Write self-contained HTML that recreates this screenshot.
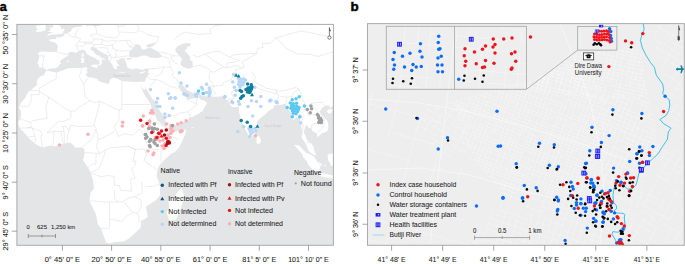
<!DOCTYPE html><html><head><meta charset="utf-8"><style>html,body{margin:0;padding:0;background:#fff}svg{display:block}</style></head><body><svg width="685" height="264" viewBox="0 0 685 264" font-family='"Liberation Sans", sans-serif'>
<defs>
<clipPath id="ca"><rect x="16.75" y="24" width="316.75" height="221"/></clipPath>
<clipPath id="cb"><rect x="367.75" y="23.5" width="316.75" height="221.5"/></clipPath>
</defs>
<rect width="685" height="264" fill="#fff"/>
<rect x="16.75" y="24" width="316.75" height="221" fill="#e4e5e7"/>
<g clip-path="url(#ca)">
<path fill="#ffffff" d="M366.9,-13.1 L81.6,-13.1 L81.6,23.7 L82.1,24.9 L81.6,26.4 L77.7,27.1 L74.0,27.6 L72.1,28.8 L70.9,31.0 L69.1,32.3 L66.7,33.2 L64.5,33.7 L64.2,35.4 L60.8,37.2 L57.6,37.5 L55.9,36.7 L56.6,39.2 L53.2,38.9 L48.8,39.8 L49.8,41.1 L55.2,42.8 L57.6,45.2 L57.6,46.9 L56.9,51.8 L56.2,52.1 L48.3,51.8 L41.0,51.4 L37.8,53.1 L39.0,55.5 L39.2,58.0 L37.3,63.4 L39.0,65.3 L38.7,67.8 L42.4,67.3 L45.1,69.0 L46.8,70.2 L49.8,68.5 L55.7,68.3 L58.8,66.3 L59.3,64.6 L61.1,63.4 L59.8,61.6 L62.8,58.7 L66.0,57.0 L68.4,55.5 L68.2,53.3 L70.4,51.8 L73.8,52.3 L76.5,52.8 L78.9,51.1 L82.4,49.6 L85.6,50.9 L86.3,53.1 L87.8,54.5 L90.7,56.3 L94.1,57.5 L95.6,58.5 L97.3,59.9 L99.0,60.4 L99.8,63.1 L98.8,65.3 L100.0,65.6 L102.5,63.1 L101.2,61.4 L102.7,59.2 L105.9,60.2 L104.7,58.9 L102.0,57.7 L99.5,56.7 L100.0,55.8 L96.3,55.0 L93.9,51.8 L90.7,49.4 L90.7,47.2 L94.4,46.7 L93.9,47.9 L95.9,47.4 L97.8,50.1 L100.8,51.8 L104.9,54.1 L107.1,55.3 L108.4,56.0 L108.1,59.4 L109.6,61.2 L111.3,63.4 L112.3,64.6 L113.5,67.8 L115.7,69.2 L117.4,69.2 L116.2,66.5 L119.4,66.1 L118.2,64.1 L116.7,61.9 L115.9,59.7 L118.6,60.7 L119.4,58.7 L123.1,58.2 L125.0,58.7 L124.8,60.4 L126.0,62.1 L126.5,64.3 L127.5,67.8 L129.7,68.5 L132.9,69.7 L135.6,68.3 L139.0,69.0 L142.7,70.0 L145.4,68.3 L149.3,68.7 L148.5,70.5 L148.3,72.4 L147.6,75.4 L146.3,78.1 L145.1,81.0 L144.4,81.7 L146.1,86.1 L145.6,89.6 L146.8,89.8 L150.3,95.2 L152.2,98.9 L153.7,99.4 L156.4,105.7 L159.8,110.6 L162.3,114.3 L165.0,118.0 L165.5,120.9 L165.7,122.1 L166.7,126.1 L167.2,127.5 L170.8,127.0 L174.5,125.6 L179.9,124.1 L183.3,121.9 L188.5,120.2 L188.5,118.0 L192.9,116.7 L196.3,114.8 L198.8,114.1 L200.3,112.1 L202.2,111.8 L203.9,108.2 L207.1,103.3 L204.2,100.6 L200.7,99.8 L198.8,97.4 L198.5,94.0 L197.8,94.7 L196.1,96.4 L193.9,98.6 L188.0,99.6 L187.0,98.4 L187.0,96.4 L186.8,94.5 L185.6,94.7 L185.1,97.6 L183.8,95.4 L183.3,93.7 L182.1,92.3 L179.9,89.8 L178.2,86.4 L178.9,84.9 L180.2,83.9 L181.9,84.9 L183.6,86.1 L185.1,87.6 L186.8,90.1 L189.7,91.5 L192.9,93.0 L198.5,91.8 L201.0,95.2 L205.2,96.2 L211.5,96.7 L216.2,96.7 L223.5,96.2 L224.8,97.6 L226.0,99.8 L228.2,100.6 L229.2,102.5 L232.1,102.3 L230.2,103.8 L229.4,103.8 L232.1,106.9 L234.6,107.4 L238.5,106.5 L238.5,104.0 L239.0,108.2 L239.0,111.8 L240.2,116.7 L241.4,120.4 L243.9,126.8 L246.3,130.9 L247.6,134.1 L250.5,138.5 L252.2,136.6 L254.9,133.2 L256.4,131.4 L257.4,126.3 L256.9,121.6 L259.1,119.2 L262.3,116.7 L264.7,115.0 L269.1,110.6 L273.5,108.2 L273.8,105.7 L276.7,105.2 L278.7,105.0 L282.4,104.5 L285.5,103.8 L286.8,106.9 L288.2,109.4 L290.2,111.8 L291.9,116.7 L291.4,119.2 L294.4,119.7 L296.3,117.2 L299.8,118.0 L301.2,125.3 L302.2,133.9 L301.5,137.6 L304.9,142.5 L306.4,145.2 L308.8,151.3 L311.8,153.5 L314.2,155.2 L316.2,154.9 L314.2,151.0 L314.0,147.4 L311.3,143.2 L308.1,141.5 L306.4,138.8 L305.4,135.6 L303.7,132.7 L304.7,129.0 L305.6,125.6 L306.9,125.3 L308.1,127.3 L311.3,128.5 L313.0,131.4 L316.7,132.9 L317.4,137.3 L322.3,132.9 L324.0,132.7 L327.5,130.7 L328.4,127.8 L328.2,124.6 L327.2,120.4 L325.7,118.9 L322.8,116.7 L320.3,113.1 L319.6,111.8 L322.1,107.9 L325.0,105.7 L327.7,105.5 L329.4,105.7 L330.1,108.7 L331.4,106.5 L334.6,105.5 L338.7,103.8 L347.3,100.8 L354.7,94.7 L366.9,84.9ZM46.1,70.7 L56.9,72.4 L67.9,68.3 L81.6,68.0 L85.6,67.3 L87.8,68.0 L86.3,70.2 L87.8,72.2 L85.3,74.4 L88.0,77.1 L92.9,77.8 L97.8,79.3 L99.0,81.2 L104.7,82.9 L108.6,83.9 L109.8,81.2 L109.6,79.8 L113.3,77.8 L116.9,78.5 L122.1,81.0 L127.2,81.5 L133.8,82.0 L139.7,81.7 L144.4,81.7 L146.1,86.1 L144.6,89.8 L142.9,89.1 L140.5,85.2 L140.7,86.1 L142.7,91.0 L143.9,93.5 L147.6,99.6 L151.0,104.5 L151.7,110.4 L154.9,114.3 L156.9,119.4 L157.4,120.2 L161.5,124.1 L164.7,127.0 L166.7,127.8 L166.2,130.0 L169.6,132.9 L170.8,132.9 L177.0,130.9 L181.9,130.5 L186.0,129.5 L185.8,132.9 L183.8,137.6 L181.9,141.7 L178.9,147.4 L174.8,152.3 L171.6,153.5 L167.2,157.2 L163.5,160.8 L161.0,163.5 L159.1,165.7 L157.9,168.2 L156.6,175.0 L157.4,178.0 L159.6,184.1 L160.1,193.9 L160.3,195.1 L156.1,200.0 L148.8,204.7 L145.8,206.9 L147.1,212.3 L147.6,217.2 L141.4,220.8 L140.5,221.8 L141.2,224.5 L140.0,228.4 L136.5,231.6 L129.2,238.5 L123.3,241.6 L114.5,242.1 L109.6,243.6 L105.7,242.4 L105.7,241.4 L104.4,238.0 L101.0,228.4 L97.8,224.5 L96.1,214.5 L89.5,200.7 L90.5,192.7 L93.9,188.5 L92.9,179.9 L90.7,173.1 L89.5,170.1 L83.4,160.8 L82.6,160.1 L83.8,157.4 L84.6,152.3 L84.3,148.6 L81.4,147.4 L77.7,147.6 L75.3,147.8 L72.8,144.7 L70.4,142.7 L68.9,142.7 L63.5,143.4 L60.1,144.7 L55.7,146.6 L50.8,145.6 L42.2,147.6 L37.3,145.2 L34.1,142.9 L28.2,137.6 L23.8,131.9 L19.6,128.0 L17.7,122.4 L20.1,119.2 L21.3,114.3 L20.6,110.6 L18.7,107.2 L20.6,103.3 L24.8,98.4 L28.7,91.0 L31.2,89.8 L36.5,85.4 L37.0,83.9 L36.5,81.2 L39.7,76.8 L41.9,76.1 L43.9,75.1 L45.4,71.7ZM181.4,187.8 L184.3,196.3 L183.6,200.0 L181.9,204.9 L179.4,212.3 L176.0,219.4 L171.3,220.8 L168.4,219.1 L166.7,212.3 L169.4,207.4 L168.4,200.0 L174.0,197.1 L178.2,191.4ZM46.6,35.9 L50.3,34.9 L52.2,34.5 L55.7,34.5 L57.9,34.0 L61.3,34.0 L64.0,33.0 L62.8,32.5 L63.7,31.3 L64.7,29.6 L63.7,28.8 L61.3,28.8 L61.1,27.4 L60.3,25.9 L59.3,24.9 L57.6,24.7 L56.9,22.5 L53.2,22.5 L51.7,23.9 L53.2,26.1 L53.2,27.6 L49.3,27.8 L50.5,28.8 L50.5,30.3 L47.6,31.5 L50.8,32.0 L52.7,32.5 L53.9,32.3 L52.0,33.0 L49.3,33.5 L47.8,34.7ZM45.9,30.5 L45.6,27.8 L45.4,26.1 L46.6,24.7 L46.3,23.2 L43.4,22.9 L40.2,23.2 L39.7,25.4 L36.1,25.6 L36.3,27.6 L37.5,29.6 L35.3,31.0 L37.0,32.0 L39.7,32.0 L43.4,31.0 L45.1,30.5ZM81.6,57.0 L83.1,57.0 L83.8,55.5 L83.6,53.1 L81.6,54.3 L81.6,55.8ZM81.1,62.9 L82.6,62.9 L84.1,62.4 L84.3,59.2 L83.8,57.5 L80.7,58.0 L81.1,60.4ZM91.0,65.3 L93.2,64.8 L98.8,64.6 L97.6,67.0 L97.6,68.5 L95.6,67.8 L91.2,66.3ZM118.2,71.9 L120.6,71.7 L125.0,71.9 L124.3,72.7 L120.6,72.4 L118.2,72.2ZM139.7,73.4 L141.4,73.6 L143.9,72.7 L145.4,70.9 L142.7,71.7 L139.7,72.4ZM66.2,61.4 L67.9,62.1 L69.1,61.2 L68.2,60.5 L66.4,60.9ZM256.1,142.5 L256.6,140.0 L256.1,136.3 L257.1,134.4 L259.8,137.6 L261.3,140.5 L260.1,142.9 L258.1,143.9ZM294.1,144.7 L299.5,145.6 L302.5,149.3 L306.6,153.0 L309.1,153.5 L314.2,156.7 L316.7,160.8 L320.3,165.7 L319.9,172.6 L316.7,172.8 L311.3,168.2 L308.1,164.5 L306.4,160.8 L303.2,157.2 L302.2,154.0 L298.3,149.8ZM318.4,175.0 L320.3,172.8 L325.2,173.8 L331.1,175.3 L336.8,175.3 L340.9,177.2 L341.2,179.7 L336.3,179.0 L330.1,178.2 L325.2,177.5 L321.3,176.5ZM327.7,158.4 L328.4,160.8 L330.1,163.3 L330.6,165.7 L333.8,165.7 L336.3,166.7 L341.2,167.2 L344.9,168.2 L352.2,158.4 L352.2,146.1 L347.3,141.2 L342.4,146.1 L337.5,150.5 L333.8,152.5 L330.9,154.2 L329.2,153.5 L327.7,154.9ZM326.7,111.6 L328.9,113.8 L331.4,113.1 L332.6,110.1 L331.4,109.2 L328.2,109.6ZM318.1,162.3 L320.3,162.8 L322.3,165.7 L320.8,165.7 L319.4,164.0ZM324.3,164.7 L325.7,164.7 L326.0,166.2 L324.3,166.2ZM191.2,127.5 L194.1,127.3 L193.4,128.3 L191.7,128.3Z"/>
<path fill="#e4e5e7" d="M129.2,56.5 L129.2,52.6 L130.7,50.1 L133.1,47.7 L135.8,44.5 L138.0,44.3 L140.5,45.7 L141.4,46.7 L140.2,47.2 L142.7,49.4 L145.1,49.2 L147.6,48.2 L150.0,47.7 L153.2,48.9 L157.9,51.6 L162.5,56.5 L157.9,58.0 L151.2,57.7 L149.5,57.2 L146.3,55.5 L141.4,55.8 L137.8,57.2 L131.9,57.5ZM146.1,46.2 L147.6,47.4 L150.3,47.2 L153.2,46.0 L154.4,44.3 L156.9,42.8 L154.4,43.0 L152.0,43.5 L148.8,44.3 L146.8,45.0ZM175.3,49.4 L177.0,46.7 L181.1,44.5 L186.0,43.0 L190.5,43.5 L190.7,45.2 L186.3,47.4 L186.8,49.6 L184.3,50.1 L186.3,52.6 L189.7,56.0 L190.2,58.0 L190.5,60.4 L192.4,61.2 L192.7,64.6 L192.7,67.8 L188.0,68.7 L183.8,67.3 L180.2,64.6 L181.4,59.7 L182.9,59.4 L181.6,58.2 L179.7,56.0 L177.0,53.3 L175.7,51.6ZM126.0,59.4 L128.0,59.7 L131.6,58.9 L131.6,58.0 L129.2,58.0 L126.7,58.2ZM84.8,24.7 L87.3,25.9 L91.2,25.2 L94.9,26.4 L99.8,25.4 L105.9,24.2 L108.6,25.2 L112.5,23.2 L84.8,21.2Z"/>
<path fill="none" stroke="#d6d6d8" stroke-width="0.45" stroke-linejoin="round" d="M56.4,72.4 L56.2,78.8 L51.7,81.2 L39.2,88.1 L39.2,90.5 L28.2,90.5M39.2,90.5 L39.2,94.7 L31.2,94.7 L31.2,100.8 L28.7,106.2 L18.9,106.2M39.2,91.5 L48.8,97.2 L63.5,107.4 L70.9,111.4 L74.8,110.9 L78.9,107.4 L90.0,100.8M81.6,68.0 L80.7,73.4 L78.9,76.1 L83.8,84.4 L85.1,97.2 L90.0,100.8M88.7,77.1 L85.8,80.7 L83.8,84.4M121.8,81.0 L121.8,104.5 L151.0,104.5M121.8,104.5 L121.8,109.4 L119.4,109.4 L119.4,110.6 L99.5,101.1 L95.4,103.0 L90.0,100.8M119.4,110.6 L118.9,120.2 L115.5,124.1 L114.5,127.8 L116.7,131.4 L118.4,136.3 L124.3,133.9 L132.9,135.1 L140.2,129.0 L143.9,135.1M99.5,101.1 L98.5,107.7 L93.9,124.8M70.9,111.4 L70.9,118.2 L63.0,121.6 L61.1,121.9 L59.3,121.4 L55.7,123.6 L47.1,132.9M48.8,97.2 L45.9,106.9 L47.1,118.2 L32.4,120.7 L30.7,122.6 L20.1,118.7M30.7,122.6 L31.2,127.8 L19.6,128.0M27.0,127.3 L32.4,128.0 L34.8,136.3 L28.2,136.8M32.4,128.0 L39.7,130.7 L41.9,133.6 L41.0,137.8 L42.2,147.6M34.1,142.9 L36.1,140.7 L34.8,136.3M67.2,129.0 L69.4,129.7 L70.4,125.3 L80.2,126.5 L91.2,126.3 L93.9,124.8M93.9,124.8 L96.1,129.0 L93.2,136.3 L90.0,141.2 L87.5,142.5 L84.6,144.9 L81.4,147.1M67.2,142.7 L67.2,136.3 L69.4,129.7M52.7,145.9 L53.7,139.0 L53.7,131.4 L60.6,131.4 L63.5,143.4M60.6,131.4 L64.2,131.4 L64.5,143.2M47.1,132.9 L53.7,131.4M64.2,131.4 L62.8,126.5 L66.4,126.3 L67.2,129.0M96.1,129.0 L98.5,140.0 L96.1,146.1 L99.8,153.5 L105.9,149.8 L109.6,147.8 L116.9,147.4 L128.0,146.1 L136.0,149.8M98.5,140.0 L105.9,136.3 L114.5,131.4M143.9,135.1 L145.1,140.0 L148.5,147.1M143.9,135.1 L146.8,132.7 L150.0,123.4 L151.2,116.7 L155.2,114.3M150.0,123.4 L156.1,122.4 L162.5,125.6 L164.5,127.8M163.0,131.4 L165.7,131.4 L168.4,136.3 L178.2,138.8 L170.8,146.1 L165.7,148.6 L163.3,148.8M148.5,147.1 L153.7,149.6 L157.4,149.8 L161.0,148.6 L163.3,148.8M163.3,148.8 L161.0,151.5 L161.0,162.5M143.9,148.1 L146.3,154.7 L143.9,160.8 L152.5,166.2 L156.6,169.9M135.3,149.6 L133.1,161.8M133.1,161.8 L136.0,160.8 L135.3,164.5 L131.6,169.4 L135.3,178.0M90.5,173.1 L101.0,176.7 L108.4,175.5 L114.0,176.3 L114.5,185.3 L119.4,185.3 L120.6,190.2 L131.6,191.2 L130.4,179.2 L135.3,178.0M159.6,184.1 L152.5,186.5 L146.3,186.5M141.4,181.6 L142.4,192.7 L135.1,196.6M89.5,200.7 L109.6,202.2 L118.2,202.0 L122.6,202.0M109.6,202.2 L109.6,212.3 L109.6,219.1 L109.6,228.2 L101.0,228.4M109.6,219.1 L121.8,221.3 L126.7,216.2 L132.6,212.7M122.6,202.0 L128.0,198.3 L135.1,196.6 L141.4,200.0 L141.2,207.4 L137.3,213.2 L132.6,212.7 L124.3,202.5M137.3,213.2 L139.0,217.2 L139.0,222.1M114.5,190.2 L114.5,198.3 L118.2,202.0M84.6,152.7 L93.2,153.0 L96.1,153.2 L99.8,153.5M90.7,173.1 L98.5,168.9 L102.2,160.8 L103.9,155.9 L105.9,149.8M88.0,167.9 L92.4,164.0 L95.9,164.3 L96.1,153.2M128.0,146.1 L134.1,149.3 L137.8,149.3 L142.7,149.1 L143.9,148.1M165.5,118.2 L168.4,115.8 L175.0,116.0 L180.7,112.8 L188.0,111.8 L197.1,104.5 L195.8,102.8 L197.8,97.6M188.0,111.8 L190.5,117.7M150.0,86.1 L152.5,83.7 L156.1,79.5 L163.5,82.2 L170.1,86.9 L174.5,87.1 L177.5,88.6M185.1,97.9 L187.0,99.1 L197.1,104.5M155.7,76.6 L161.0,74.1 L164.0,67.0 L170.4,67.3M149.3,68.7 L151.2,68.7 L156.1,68.5 L164.0,67.0M147.8,77.6 L150.0,79.3 L156.1,79.5M146.6,77.3 L148.3,73.4 L150.3,73.6M170.4,67.3 L172.1,70.7 L173.5,72.4 L172.1,75.1 L173.5,77.6 L176.7,79.0 L179.4,84.7M170.4,67.3 L169.1,61.9 L170.4,61.2M192.7,67.0 L200.3,65.1 L208.8,69.0 L210.6,71.2 L208.8,75.8 L209.8,81.2 L211.8,81.7 L214.2,86.4 L211.5,89.3 L215.7,92.7 L211.5,96.7M209.8,85.4 L212.5,86.4 L223.0,85.2 L224.0,82.0 L230.4,80.3 L233.3,75.4 L235.8,72.9 L235.1,70.0 L243.1,67.8M210.6,71.2 L213.7,72.2 L218.6,69.5 L223.5,66.8 L227.2,67.8 L232.1,66.5 L235.8,65.6 L243.1,67.8M243.6,73.9 L244.4,78.8 L243.1,82.5 L236.8,90.1 L233.3,90.1 L230.9,93.2 L234.6,98.6 L229.2,98.9 L227.7,100.3M251.7,71.4 L255.4,77.6 L253.7,81.2 L259.1,84.4 L266.4,88.3 L276.2,90.1 L278.2,91.5 L286.0,90.3 L295.8,87.4 L299.0,89.3M256.9,87.8 L266.4,91.3 L276.5,93.7 L276.7,90.1M276.5,93.7 L278.7,94.7 L277.7,98.9 L278.2,104.5M280.6,96.4 L287.0,97.2 L286.3,100.6 L285.5,103.8M287.0,97.2 L292.2,96.4 L293.9,92.5 L299.0,89.3M299.0,89.3 L302.0,95.9 L302.9,99.4 L305.6,105.7 L308.6,106.0M305.9,108.4 L302.2,110.1 L299.5,113.6 L302.9,118.5 L301.2,121.6 L303.2,126.5 L302.2,133.4M305.9,108.4 L308.3,115.5 L312.0,114.5 L317.2,115.8 L319.4,120.2 L319.1,123.4 L313.0,123.6 L311.3,126.1 L312.0,128.5M310.8,103.5 L315.7,109.2 L318.1,112.8 L323.8,118.9 L324.0,122.9 L321.1,129.5 L317.7,132.4M319.1,123.4 L324.0,122.9M308.6,106.0 L310.8,103.5 L316.2,102.5 L322.1,102.5 L325.2,105.7M305.9,142.5 L310.8,143.2M192.9,54.8 L197.8,57.2 L204.7,54.3 L212.5,51.8 L219.6,51.4 L222.3,53.3 L229.7,57.0 L233.8,54.8 L240.7,54.3 L257.1,53.3M204.7,54.3 L210.1,57.5 L213.2,60.4 L217.9,63.1 L223.5,66.8M174.5,39.6 L175.7,37.9 L179.9,34.5 L185.6,32.0 L197.1,34.5 L211.0,33.5 L210.1,29.8 L213.7,26.1 L229.7,22.9M158.6,52.1 L164.7,52.8 L168.4,53.8 L174.3,55.8 L179.7,56.0M275.7,37.9 L282.8,44.0 L286.0,48.2 L296.8,53.8 L310.1,54.3 L317.9,56.5 L324.3,54.5 L334.6,51.4M257.1,53.3 L257.4,48.2 L263.0,47.7 L262.3,43.3 L270.1,43.3 L275.7,37.9M257.1,53.3 L246.8,59.4 L241.9,61.6 L244.4,67.0 L243.1,67.8M275.7,37.9 L287.5,34.5 L300.7,31.0 L310.5,32.7 L321.6,35.2 L334.6,37.4M229.7,57.0 L233.3,58.5 L239.5,60.4 L234.6,61.9 L227.2,63.1 L226.7,67.3M38.7,55.8 L44.4,55.8 L43.7,58.0 L43.4,61.2 L42.7,64.3 L42.4,67.3M56.2,52.1 L62.3,53.6 L68.4,54.5M66.7,33.2 L70.9,36.2 L74.8,37.2 L76.2,37.2 L80.7,38.4 L78.9,41.8 L75.3,45.2 L77.7,46.0 L76.7,47.9 L78.9,51.1M78.2,27.8 L77.5,30.5 L75.3,33.5 L76.2,37.2M78.9,41.8 L84.1,42.1 L86.3,43.5 L82.6,46.2 L77.7,46.0M84.1,42.1 L92.4,42.1 L94.4,39.1M86.3,43.5 L90.5,43.3 L94.1,44.5 L93.9,46.9M94.4,39.1 L90.2,35.2 L96.8,33.7 L96.3,29.8 L95.4,26.4M94.4,39.1 L102.0,39.4 L102.7,40.8 L101.0,44.5 L94.1,44.5M96.8,33.7 L106.6,37.2 L115.9,38.1 L119.6,34.0 L118.2,30.8 L118.2,26.4 L116.4,25.2M102.0,39.4 L106.6,41.3 L115.9,40.3 L116.7,41.1 L112.3,45.0 L110.3,45.5 L106.6,46.0 L101.0,44.5M98.1,46.9 L99.8,47.9 L102.0,47.4 L107.1,48.2 L108.1,48.7 L107.9,52.3 L105.9,54.3M107.9,52.3 L110.1,53.6 L110.8,55.0 L108.1,55.8M112.3,45.0 L113.0,48.7 L116.2,50.1 L115.5,53.1 L116.7,55.3 L115.5,57.2M116.2,50.1 L121.8,51.4 L127.2,50.4 L130.7,51.4M116.7,41.1 L125.8,40.3 L129.7,46.9 L133.1,47.7M125.8,40.3 L130.4,40.3 L134.1,44.7 L129.7,46.9M109.6,61.2 L111.3,58.2 L116.7,57.2 L124.5,56.3 L125.0,58.2M110.8,55.0 L110.8,58.0 L111.3,58.2M124.5,56.3 L129.2,55.8M119.4,32.0 L135.3,32.7 L139.0,30.5 L144.9,32.7 L147.6,34.9 L154.2,36.2 L158.6,36.9 L157.6,41.3 L154.2,43.0M139.0,30.5 L138.5,26.6 L136.0,22.5M118.2,26.4 L124.3,26.1 L125.8,22.0M162.5,56.7 L167.2,57.7 L170.4,61.2M174.3,55.8 L170.8,57.5 L174.5,62.9 L178.2,64.3"/>
<text x="113.3" y="76.6" font-size="3.4" fill="#cbcbcd" textLength="17" lengthAdjust="spacingAndGlyphs">Mediterranean Sea</text>
<text x="205.6" y="119.4" font-size="3.4" fill="#cbcbcd" textLength="14" lengthAdjust="spacingAndGlyphs">Arabian Sea</text>
<text x="264.4" y="127.2" font-size="3.4" fill="#cbcbcd" textLength="17" lengthAdjust="spacingAndGlyphs">Bay of Bengal</text>
<circle cx="168.4" cy="93.7" r="1.75" fill="#b9d6f6"/><circle cx="157.6" cy="98.5" r="1.75" fill="#b9d6f6"/><circle cx="169.5" cy="98.5" r="1.75" fill="#b9d6f6"/><circle cx="175.2" cy="98.2" r="1.75" fill="#b9d6f6"/><circle cx="156.4" cy="102.3" r="1.75" fill="#b9d6f6"/><circle cx="157.3" cy="106.2" r="1.75" fill="#b9d6f6"/><circle cx="159.8" cy="106.5" r="1.75" fill="#b9d6f6"/><circle cx="172.6" cy="108.2" r="1.75" fill="#b9d6f6"/><circle cx="164.9" cy="113.9" r="1.75" fill="#b9d6f6"/><circle cx="169.2" cy="115.6" r="1.75" fill="#b9d6f6"/><circle cx="164.9" cy="117.3" r="1.75" fill="#b9d6f6"/><circle cx="184.2" cy="93.7" r="1.75" fill="#b9d6f6"/><circle cx="187.1" cy="95.5" r="1.75" fill="#b9d6f6"/><circle cx="150.5" cy="89.5" r="1.75" fill="#b9d6f6"/><circle cx="179.4" cy="72.8" r="1.75" fill="#b9d6f6"/><circle cx="181.1" cy="83" r="1.75" fill="#b9d6f6"/><circle cx="187" cy="85.9" r="1.75" fill="#b9d6f6"/><circle cx="184" cy="94.1" r="1.75" fill="#b9d6f6"/><circle cx="187" cy="95.3" r="1.75" fill="#b9d6f6"/><circle cx="175.1" cy="97.8" r="1.75" fill="#b9d6f6"/><circle cx="170.9" cy="97.8" r="1.75" fill="#b9d6f6"/><circle cx="195.6" cy="94.9" r="1.75" fill="#b9d6f6"/><circle cx="196.4" cy="96.6" r="1.75" fill="#b9d6f6"/><circle cx="201.5" cy="87.3" r="1.75" fill="#b9d6f6"/><circle cx="202.4" cy="89" r="1.75" fill="#b9d6f6"/><circle cx="206.6" cy="84.2" r="1.75" fill="#b9d6f6"/><circle cx="209.2" cy="88.1" r="1.75" fill="#b9d6f6"/><circle cx="210" cy="90.7" r="1.75" fill="#b9d6f6"/><circle cx="208.4" cy="92.4" r="1.75" fill="#b9d6f6"/><circle cx="210" cy="93.2" r="1.75" fill="#b9d6f6"/><circle cx="209.2" cy="95.8" r="1.75" fill="#b9d6f6"/><circle cx="224.5" cy="97.2" r="1.75" fill="#b9d6f6"/><circle cx="197.5" cy="93.75" r="1.75" fill="#b9d6f6"/><circle cx="206.25" cy="92.5" r="1.75" fill="#b9d6f6"/><circle cx="233.5" cy="74.4" r="1.75" fill="#b9d6f6"/><circle cx="238.6" cy="78.6" r="1.75" fill="#b9d6f6"/><circle cx="241" cy="79.5" r="1.75" fill="#b9d6f6"/><circle cx="243.5" cy="79" r="1.75" fill="#b9d6f6"/><circle cx="245.5" cy="80" r="1.75" fill="#b9d6f6"/><circle cx="239" cy="81.5" r="1.75" fill="#b9d6f6"/><circle cx="241.5" cy="82.5" r="1.75" fill="#b9d6f6"/><circle cx="244" cy="82" r="1.75" fill="#b9d6f6"/><circle cx="238.6" cy="84.5" r="1.75" fill="#b9d6f6"/><circle cx="241" cy="85.5" r="1.75" fill="#b9d6f6"/><circle cx="243" cy="84.5" r="1.75" fill="#b9d6f6"/><circle cx="240" cy="87" r="1.75" fill="#b9d6f6"/><circle cx="232.7" cy="82" r="1.75" fill="#b9d6f6"/><circle cx="234.4" cy="87.2" r="1.75" fill="#b9d6f6"/><circle cx="236.1" cy="90.6" r="1.75" fill="#b9d6f6"/><circle cx="254.8" cy="87.2" r="1.75" fill="#b9d6f6"/><circle cx="260.8" cy="96.5" r="1.75" fill="#b9d6f6"/><circle cx="251.4" cy="100.8" r="1.75" fill="#b9d6f6"/><circle cx="256.5" cy="101.6" r="1.75" fill="#b9d6f6"/><circle cx="270.2" cy="99.9" r="1.75" fill="#b9d6f6"/><circle cx="269.7" cy="101.1" r="1.75" fill="#b9d6f6"/><circle cx="276.1" cy="101.6" r="1.75" fill="#b9d6f6"/><circle cx="277" cy="102.8" r="1.75" fill="#b9d6f6"/><circle cx="231.8" cy="101.6" r="1.75" fill="#b9d6f6"/><circle cx="232.7" cy="102.8" r="1.75" fill="#b9d6f6"/><circle cx="238.6" cy="101.6" r="1.75" fill="#b9d6f6"/><circle cx="239.5" cy="104.2" r="1.75" fill="#b9d6f6"/><circle cx="248" cy="106.4" r="1.75" fill="#b9d6f6"/><circle cx="260.8" cy="106.4" r="1.75" fill="#b9d6f6"/><circle cx="235.2" cy="95.3" r="1.75" fill="#b9d6f6"/><circle cx="225" cy="96.5" r="1.75" fill="#b9d6f6"/><circle cx="252.8" cy="115.9" r="1.75" fill="#b9d6f6"/><circle cx="243.7" cy="126.4" r="1.75" fill="#b9d6f6"/><circle cx="249" cy="128.5" r="1.75" fill="#b9d6f6"/><circle cx="252" cy="129" r="1.75" fill="#b9d6f6"/><circle cx="255" cy="128.5" r="1.75" fill="#b9d6f6"/><circle cx="250" cy="131" r="1.75" fill="#b9d6f6"/><circle cx="253" cy="132" r="1.75" fill="#b9d6f6"/><circle cx="256" cy="131" r="1.75" fill="#b9d6f6"/><circle cx="251" cy="134" r="1.75" fill="#b9d6f6"/><circle cx="237.8" cy="131.5" r="1.75" fill="#b9d6f6"/><circle cx="249.7" cy="136.6" r="1.75" fill="#b9d6f6"/><circle cx="276.5" cy="102.3" r="1.75" fill="#b9d6f6"/><circle cx="271" cy="100.4" r="1.75" fill="#b9d6f6"/><circle cx="300.6" cy="122.7" r="1.75" fill="#b9d6f6"/>
<circle cx="157" cy="139.5" r="1.75" fill="#fbb0b5"/><circle cx="160" cy="141" r="1.75" fill="#fbb0b5"/><circle cx="163" cy="140" r="1.75" fill="#fbb0b5"/><circle cx="158" cy="137" r="1.75" fill="#fbb0b5"/><circle cx="165" cy="143.5" r="1.75" fill="#fbb0b5"/><circle cx="162" cy="146" r="1.75" fill="#fbb0b5"/><circle cx="170" cy="137.5" r="1.75" fill="#fbb0b5"/><circle cx="168" cy="135" r="1.75" fill="#fbb0b5"/><circle cx="171" cy="129" r="1.75" fill="#fbb0b5"/><circle cx="173" cy="131" r="1.75" fill="#fbb0b5"/><circle cx="151.8" cy="110.5" r="1.75" fill="#fbb0b5"/><circle cx="150.5" cy="113" r="1.75" fill="#fbb0b5"/><circle cx="153" cy="113" r="1.75" fill="#fbb0b5"/><circle cx="143.3" cy="116" r="1.75" fill="#fbb0b5"/><circle cx="142.3" cy="125.8" r="1.75" fill="#fbb0b5"/><circle cx="166.6" cy="124.1" r="1.75" fill="#fbb0b5"/><circle cx="170.9" cy="125.8" r="1.75" fill="#fbb0b5"/><circle cx="171.8" cy="127.2" r="1.75" fill="#fbb0b5"/><circle cx="177.7" cy="124.1" r="1.75" fill="#fbb0b5"/><circle cx="181.1" cy="122.7" r="1.75" fill="#fbb0b5"/><circle cx="186.2" cy="120.7" r="1.75" fill="#fbb0b5"/><circle cx="181.1" cy="130.9" r="1.75" fill="#fbb0b5"/><circle cx="170.9" cy="133.5" r="1.75" fill="#fbb0b5"/><circle cx="149.6" cy="121.5" r="1.75" fill="#fbb0b5"/><circle cx="155.6" cy="137.3" r="1.75" fill="#fbb0b5"/><circle cx="157.3" cy="138.3" r="1.75" fill="#fbb0b5"/><circle cx="163.2" cy="136.1" r="1.75" fill="#fbb0b5"/><circle cx="170.9" cy="132.7" r="1.75" fill="#fbb0b5"/><circle cx="180.3" cy="131.8" r="1.75" fill="#fbb0b5"/><circle cx="182" cy="131" r="1.75" fill="#fbb0b5"/><circle cx="164.1" cy="145.5" r="1.75" fill="#fbb0b5"/><circle cx="164.1" cy="148.5" r="1.75" fill="#fbb0b5"/><circle cx="147.9" cy="150.9" r="1.75" fill="#fbb0b5"/><circle cx="153.9" cy="153.1" r="1.75" fill="#fbb0b5"/><circle cx="153" cy="154.8" r="1.75" fill="#fbb0b5"/><circle cx="142.8" cy="125.9" r="1.75" fill="#fbb0b5"/><circle cx="149.6" cy="126.4" r="1.75" fill="#fbb0b5"/><circle cx="122.8" cy="122.3" r="1.75" fill="#fbb0b5"/><circle cx="122.3" cy="126" r="1.75" fill="#fbb0b5"/><circle cx="149.5" cy="120.9" r="1.75" fill="#fbb0b5"/><circle cx="59.5" cy="145" r="1.75" fill="#fbb0b5"/><circle cx="88" cy="134.25" r="1.75" fill="#fbb0b5"/><circle cx="255.7" cy="135.8" r="1.75" fill="#fbb0b5"/>
<circle cx="318.5" cy="118" r="1.75" fill="#a0a0a0"/><circle cx="320.5" cy="118.5" r="1.75" fill="#a0a0a0"/><circle cx="321.5" cy="120.5" r="1.75" fill="#a0a0a0"/><circle cx="319.5" cy="121.5" r="1.75" fill="#a0a0a0"/><circle cx="321" cy="122.5" r="1.75" fill="#a0a0a0"/><circle cx="153" cy="131.5" r="1.75" fill="#a0a0a0"/><circle cx="151" cy="140" r="1.75" fill="#a0a0a0"/><circle cx="155" cy="139.5" r="1.75" fill="#a0a0a0"/><circle cx="147" cy="137" r="1.75" fill="#a0a0a0"/><circle cx="154.4" cy="124.1" r="1.75" fill="#a0a0a0"/><circle cx="152.2" cy="128.9" r="1.75" fill="#a0a0a0"/><circle cx="148.7" cy="128.4" r="1.75" fill="#a0a0a0"/><circle cx="157.3" cy="129.2" r="1.75" fill="#a0a0a0"/><circle cx="172.6" cy="125.5" r="1.75" fill="#a0a0a0"/><circle cx="145.3" cy="134.4" r="1.75" fill="#a0a0a0"/><circle cx="145.7" cy="138.3" r="1.75" fill="#a0a0a0"/><circle cx="150.5" cy="139.5" r="1.75" fill="#a0a0a0"/><circle cx="149.3" cy="141.5" r="1.75" fill="#a0a0a0"/><circle cx="153.9" cy="142" r="1.75" fill="#a0a0a0"/><circle cx="155" cy="143.4" r="1.75" fill="#a0a0a0"/><circle cx="149.6" cy="145.5" r="1.75" fill="#a0a0a0"/><circle cx="150.1" cy="146.8" r="1.75" fill="#a0a0a0"/><circle cx="157.3" cy="145.5" r="1.75" fill="#a0a0a0"/><circle cx="152.2" cy="128" r="1.75" fill="#a0a0a0"/><circle cx="154.7" cy="128.4" r="1.75" fill="#a0a0a0"/><circle cx="145.8" cy="134.5" r="1.75" fill="#a0a0a0"/><circle cx="310.9" cy="105.9" r="1.75" fill="#a0a0a0"/><circle cx="307.3" cy="109.5" r="1.75" fill="#a0a0a0"/><circle cx="311.6" cy="108.7" r="1.75" fill="#a0a0a0"/><circle cx="310.2" cy="112.8" r="1.75" fill="#a0a0a0"/><circle cx="317.4" cy="114.5" r="1.75" fill="#a0a0a0"/><circle cx="318.5" cy="115.9" r="1.75" fill="#a0a0a0"/><circle cx="320.3" cy="118.8" r="1.75" fill="#a0a0a0"/><circle cx="319.5" cy="121" r="1.75" fill="#a0a0a0"/><circle cx="321" cy="122.4" r="1.75" fill="#a0a0a0"/><circle cx="318.8" cy="122.4" r="1.75" fill="#a0a0a0"/><circle cx="320" cy="120" r="1.75" fill="#a0a0a0"/>
<circle cx="198.6" cy="91" r="1.75" fill="#5cc8f2"/><circle cx="203.2" cy="93.6" r="1.75" fill="#5cc8f2"/><circle cx="304.4" cy="106" r="1.75" fill="#5cc8f2"/><circle cx="299.3" cy="96.8" r="1.75" fill="#5cc8f2"/><circle cx="296" cy="98.8" r="1.75" fill="#5cc8f2"/><circle cx="292.2" cy="99.8" r="1.75" fill="#5cc8f2"/><circle cx="290.3" cy="103" r="1.75" fill="#5cc8f2"/><circle cx="293.2" cy="103.8" r="1.75" fill="#5cc8f2"/><circle cx="296.5" cy="103.3" r="1.75" fill="#5cc8f2"/><circle cx="291.5" cy="105.8" r="1.75" fill="#5cc8f2"/><circle cx="294" cy="106" r="1.75" fill="#5cc8f2"/><circle cx="296.8" cy="106.2" r="1.75" fill="#5cc8f2"/><circle cx="299" cy="107.5" r="1.75" fill="#5cc8f2"/><circle cx="291" cy="108.3" r="1.75" fill="#5cc8f2"/><circle cx="293.5" cy="108.5" r="1.75" fill="#5cc8f2"/><circle cx="296" cy="108.8" r="1.75" fill="#5cc8f2"/><circle cx="298.3" cy="109.5" r="1.75" fill="#5cc8f2"/><circle cx="287.2" cy="107.6" r="1.75" fill="#5cc8f2"/><circle cx="292.5" cy="110.8" r="1.75" fill="#5cc8f2"/><circle cx="295" cy="111" r="1.75" fill="#5cc8f2"/><circle cx="297.5" cy="111.5" r="1.75" fill="#5cc8f2"/><circle cx="293.2" cy="113.2" r="1.75" fill="#5cc8f2"/><circle cx="296" cy="113.8" r="1.75" fill="#5cc8f2"/><circle cx="292.3" cy="116.8" r="1.75" fill="#5cc8f2"/><circle cx="299.8" cy="116.8" r="1.75" fill="#5cc8f2"/>
<circle cx="140.6" cy="120.3" r="1.75" fill="#e8141c"/><circle cx="147" cy="123.4" r="1.75" fill="#e8141c"/><circle cx="151.8" cy="132.6" r="1.75" fill="#e8141c"/><circle cx="161.5" cy="130.9" r="1.75" fill="#e8141c"/><circle cx="159.3" cy="133.5" r="1.75" fill="#e8141c"/><circle cx="166.3" cy="138.3" r="1.75" fill="#e8141c"/><circle cx="167.8" cy="141.2" r="1.75" fill="#e8141c"/><circle cx="169.5" cy="142.9" r="1.75" fill="#e8141c"/><circle cx="166.1" cy="145.5" r="1.75" fill="#e8141c"/><circle cx="158.6" cy="133.3" r="1.75" fill="#e8141c"/><circle cx="156.9" cy="137.6" r="1.75" fill="#e8141c"/>
<circle cx="247.6" cy="84.1" r="1.75" fill="#127ea2"/><circle cx="251.3" cy="84.8" r="1.75" fill="#127ea2"/><circle cx="248" cy="88" r="1.75" fill="#127ea2"/><circle cx="250" cy="87.5" r="1.75" fill="#127ea2"/><circle cx="251.5" cy="89" r="1.75" fill="#127ea2"/><circle cx="248.5" cy="90.5" r="1.75" fill="#127ea2"/><circle cx="250.5" cy="91" r="1.75" fill="#127ea2"/><circle cx="247.5" cy="92" r="1.75" fill="#127ea2"/><circle cx="249.5" cy="92.5" r="1.75" fill="#127ea2"/><circle cx="246" cy="89.5" r="1.75" fill="#127ea2"/><circle cx="252" cy="87" r="1.75" fill="#127ea2"/><circle cx="240.1" cy="90.6" r="1.75" fill="#127ea2"/><circle cx="241.5" cy="91.6" r="1.75" fill="#127ea2"/><circle cx="242" cy="96.5" r="1.75" fill="#127ea2"/><circle cx="243.4" cy="95.7" r="1.75" fill="#127ea2"/><circle cx="240.7" cy="98.2" r="1.75" fill="#127ea2"/><circle cx="241.2" cy="120.5" r="1.75" fill="#127ea2"/><circle cx="247.2" cy="122.2" r="1.75" fill="#127ea2"/><circle cx="250.6" cy="126.4" r="1.75" fill="#127ea2"/>
<circle cx="166.3" cy="130" r="1.75" fill="#a50f15"/><circle cx="164.5" cy="135" r="1.75" fill="#a50f15"/><circle cx="167.5" cy="143.5" r="1.75" fill="#a50f15"/><circle cx="169" cy="142" r="1.75" fill="#a50f15"/>
<path d="M236.1,73.10000000000001 L238.095,76.67 L234.105,76.67Z" fill="#127ea2"/><path d="M238.6,74.0 L240.595,77.57 L236.605,77.57Z" fill="#127ea2"/><path d="M252,92.60000000000001 L253.995,96.17 L250.005,96.17Z" fill="#127ea2"/><path d="M257.4,124.30000000000001 L259.395,127.87 L255.40499999999997,127.87Z" fill="#127ea2"/>
<path d="M167.8,140.20000000000002 L169.79500000000002,143.77 L165.805,143.77Z" fill="#a50f15"/>
<path d="M161.5,134.0 L163.495,137.57 L159.505,137.57Z" fill="#e8141c"/>
</g>
<rect x="16.9" y="24.4" width="316.5" height="220.9" fill="none" stroke="#ababab" stroke-width="1"/>
<line x1="11.9" y1="34.5" x2="16.9" y2="34.5" stroke="#909090" stroke-width="0.8"/>
<line x1="11.9" y1="83.7" x2="16.9" y2="83.7" stroke="#909090" stroke-width="0.8"/>
<line x1="11.9" y1="133" x2="16.9" y2="133" stroke="#909090" stroke-width="0.8"/>
<line x1="11.9" y1="182.2" x2="16.9" y2="182.2" stroke="#909090" stroke-width="0.8"/>
<line x1="11.9" y1="231.2" x2="16.9" y2="231.2" stroke="#909090" stroke-width="0.8"/>
<line x1="62.4" y1="245.3" x2="62.4" y2="250.8" stroke="#909090" stroke-width="0.8"/>
<line x1="111.6" y1="245.3" x2="111.6" y2="250.8" stroke="#909090" stroke-width="0.8"/>
<line x1="160.8" y1="245.3" x2="160.8" y2="250.8" stroke="#909090" stroke-width="0.8"/>
<line x1="210.1" y1="245.3" x2="210.1" y2="250.8" stroke="#909090" stroke-width="0.8"/>
<line x1="259.3" y1="245.3" x2="259.3" y2="250.8" stroke="#909090" stroke-width="0.8"/>
<line x1="308.5" y1="245.3" x2="308.5" y2="250.8" stroke="#909090" stroke-width="0.8"/>
<text x="0" y="0" font-size="7.3" text-anchor="middle" fill="#1e1e1e" font-weight="normal" transform="translate(7.7,34.5) rotate(-90)" textLength="40.00" lengthAdjust="spacingAndGlyphs" stroke="#1e1e1e" stroke-width="0.07">50 °35' 0" N</text>
<text x="0" y="0" font-size="7.3" text-anchor="middle" fill="#1e1e1e" font-weight="normal" transform="translate(7.7,83.7) rotate(-90)" textLength="40.00" lengthAdjust="spacingAndGlyphs" stroke="#1e1e1e" stroke-width="0.07">30 °30' 0" N</text>
<text x="0" y="0" font-size="7.3" text-anchor="middle" fill="#1e1e1e" font-weight="normal" transform="translate(7.7,133) rotate(-90)" textLength="40.00" lengthAdjust="spacingAndGlyphs" stroke="#1e1e1e" stroke-width="0.07">10 °25' 0" N</text>
<text x="0" y="0" font-size="7.3" text-anchor="middle" fill="#1e1e1e" font-weight="normal" transform="translate(7.7,182.2) rotate(-90)" textLength="34.50" lengthAdjust="spacingAndGlyphs" stroke="#1e1e1e" stroke-width="0.07">9° 40' 0" S</text>
<text x="0" y="0" font-size="7.3" text-anchor="middle" fill="#1e1e1e" font-weight="normal" transform="translate(7.7,231.2) rotate(-90)" textLength="38.75" lengthAdjust="spacingAndGlyphs" stroke="#1e1e1e" stroke-width="0.07">29° 45' 0" S</text>
<text x="62.4" y="262.2" font-size="7.3" text-anchor="middle" fill="#1e1e1e" font-weight="normal" textLength="35.50" lengthAdjust="spacingAndGlyphs" stroke="#1e1e1e" stroke-width="0.07">0° 45' 0" E</text>
<text x="111.6" y="262.2" font-size="7.3" text-anchor="middle" fill="#1e1e1e" font-weight="normal" textLength="40.00" lengthAdjust="spacingAndGlyphs" stroke="#1e1e1e" stroke-width="0.07">20° 50' 0" E</text>
<text x="160.8" y="262.2" font-size="7.3" text-anchor="middle" fill="#1e1e1e" font-weight="normal" textLength="39.40" lengthAdjust="spacingAndGlyphs" stroke="#1e1e1e" stroke-width="0.07">40° 55' 0" E</text>
<text x="210.1" y="262.2" font-size="7.3" text-anchor="middle" fill="#1e1e1e" font-weight="normal" textLength="34.50" lengthAdjust="spacingAndGlyphs" stroke="#1e1e1e" stroke-width="0.07">61° 0' 0" E</text>
<text x="259.3" y="262.2" font-size="7.3" text-anchor="middle" fill="#1e1e1e" font-weight="normal" textLength="33.90" lengthAdjust="spacingAndGlyphs" stroke="#1e1e1e" stroke-width="0.07">81° 5' 0" E</text>
<text x="308.5" y="262.2" font-size="7.3" text-anchor="middle" fill="#1e1e1e" font-weight="normal" textLength="40.60" lengthAdjust="spacingAndGlyphs" stroke="#1e1e1e" stroke-width="0.07">101° 10' 0" E</text>
<line x1="329.4" y1="27.3" x2="329.4" y2="36" stroke="#333" stroke-width="0.6"/>
<path d="M329.4,27.3 L330.9,31.5 L329.4,30.8Z" fill="#333"/>
<circle cx="329.4" cy="37.6" r="1.6" fill="#fff" stroke="#333" stroke-width="0.6"/>
<path d="M28.25,236 H55.5 M28.25,233.9 V238.1 M42,234.6 V237.4 M55.5,233.9 V238.1" stroke="#777" stroke-width="0.7" fill="none"/>
<text x="28.25" y="229.4" font-size="6.2" text-anchor="middle" fill="#1e1e1e" font-weight="normal" textLength="3.28" lengthAdjust="spacingAndGlyphs" stroke="#1e1e1e" stroke-width="0.07">0</text>
<text x="42" y="229.4" font-size="6.2" text-anchor="middle" fill="#1e1e1e" font-weight="normal" textLength="9.83" lengthAdjust="spacingAndGlyphs" stroke="#1e1e1e" stroke-width="0.07">625</text>
<text x="51" y="229.4" font-size="6.2" text-anchor="start" fill="#1e1e1e" font-weight="normal" textLength="24.23" lengthAdjust="spacingAndGlyphs" stroke="#1e1e1e" stroke-width="0.07">1,250 km</text>
<text x="160.5" y="173.2" font-size="7" text-anchor="start" fill="#1e1e1e" font-weight="normal" textLength="19.50" lengthAdjust="spacingAndGlyphs" stroke="#1e1e1e" stroke-width="0.07">Native</text>
<text x="228" y="173.6" font-size="7" text-anchor="start" fill="#1e1e1e" font-weight="normal" textLength="24.50" lengthAdjust="spacingAndGlyphs" stroke="#1e1e1e" stroke-width="0.07">Invasive</text>
<text x="294" y="174.6" font-size="7" text-anchor="start" fill="#1e1e1e" font-weight="normal" textLength="27.25" lengthAdjust="spacingAndGlyphs" stroke="#1e1e1e" stroke-width="0.07">Negative</text>
<circle cx="162.3" cy="185.3" r="1.7" fill="#10557e"/>
<path d="M162.3,196.70000000000002 L164.29500000000002,200.27 L160.305,200.27Z" fill="#10557e"/>
<circle cx="162.3" cy="211.6" r="1.7" fill="#5cc8f2"/>
<circle cx="162.3" cy="224.3" r="1.7" fill="#b9d6f6"/>
<circle cx="229.5" cy="184.8" r="1.7" fill="#a50f15"/>
<path d="M229.5,196.3 L231.495,199.87 L227.505,199.87Z" fill="#e8141c"/>
<circle cx="229.5" cy="210.4" r="1.7" fill="#e8141c"/>
<circle cx="229.5" cy="223.8" r="1.7" fill="#fbb0b5"/>
<text x="168.3" y="187.4" font-size="7.3" text-anchor="start" fill="#1e1e1e" font-weight="normal" textLength="48.25" lengthAdjust="spacingAndGlyphs" stroke="#1e1e1e" stroke-width="0.07">Infected with Pf</text>
<text x="235" y="187.20000000000002" font-size="7.3" text-anchor="start" fill="#1e1e1e" font-weight="normal" textLength="48.25" lengthAdjust="spacingAndGlyphs" stroke="#1e1e1e" stroke-width="0.07">Infected with Pf</text>
<text x="168.3" y="200.9" font-size="7.3" text-anchor="start" fill="#1e1e1e" font-weight="normal" textLength="49.50" lengthAdjust="spacingAndGlyphs" stroke="#1e1e1e" stroke-width="0.07">Infected with Pv</text>
<text x="235" y="200.70000000000002" font-size="7.3" text-anchor="start" fill="#1e1e1e" font-weight="normal" textLength="49.50" lengthAdjust="spacingAndGlyphs" stroke="#1e1e1e" stroke-width="0.07">Infected with Pv</text>
<text x="168.3" y="213.7" font-size="7.3" text-anchor="start" fill="#1e1e1e" font-weight="normal" textLength="38.00" lengthAdjust="spacingAndGlyphs" stroke="#1e1e1e" stroke-width="0.07">Not infected</text>
<text x="235" y="212.5" font-size="7.3" text-anchor="start" fill="#1e1e1e" font-weight="normal" textLength="38.00" lengthAdjust="spacingAndGlyphs" stroke="#1e1e1e" stroke-width="0.07">Not infected</text>
<text x="168.3" y="226.4" font-size="7.3" text-anchor="start" fill="#1e1e1e" font-weight="normal" textLength="48.00" lengthAdjust="spacingAndGlyphs" stroke="#1e1e1e" stroke-width="0.07">Not determined</text>
<text x="235" y="226.20000000000002" font-size="7.3" text-anchor="start" fill="#1e1e1e" font-weight="normal" textLength="48.00" lengthAdjust="spacingAndGlyphs" stroke="#1e1e1e" stroke-width="0.07">Not determined</text>
<circle cx="295.75" cy="183.3" r="1.1" fill="#a0a0a0"/>
<text x="300.75" y="185.8" font-size="7" text-anchor="start" fill="#1e1e1e" font-weight="normal" textLength="31.00" lengthAdjust="spacingAndGlyphs" stroke="#1e1e1e" stroke-width="0.07">Not found</text>
<text x="-0.2" y="10.5" font-size="12.6" text-anchor="start" fill="#000" font-weight="bold" stroke="#000" stroke-width="0.45">a</text>
<text x="350.4" y="10.5" font-size="13.4" text-anchor="start" fill="#000" font-weight="bold" stroke="#000" stroke-width="0.45">b</text>
<rect x="367.75" y="23.5" width="316.75" height="221.5" fill="#eeeeee"/>
<g clip-path="url(#cb)">
<path d="M574.0,62.4 L576.0,63.1M568.9,64.4 L577.1,67.4M577.1,67.4 L581.3,68.9M565.0,66.0 L565.5,66.2M565.5,66.2 L570.8,68.1M570.8,68.1 L576.2,70.1M576.2,70.1 L583.5,72.7M566.9,70.6 L573.2,72.9M573.2,72.9 L584.5,77.0M554.4,70.3 L565.7,74.4M565.7,74.4 L571.1,76.4M571.1,76.4 L583.4,80.8M595.7,85.3 L596.4,85.6M550.3,71.9 L556.0,73.9M556.0,73.9 L570.4,79.2M570.4,79.2 L581.1,83.1M546.1,73.5 L547.4,74.0M547.4,74.0 L554.9,76.7M568.3,81.6 L575.6,84.3M575.6,84.3 L585.6,87.9M540.8,75.7 L550.5,79.2M557.5,81.7 L572.5,87.2M572.5,87.2 L578.6,89.4M578.6,89.4 L584.3,91.5M584.3,91.5 L589.9,93.5M589.9,93.5 L597.3,96.2M597.3,96.2 L605.0,99.0M537.2,77.1 L539.8,78.0M539.8,78.0 L550.6,82.0M572.6,90.0 L587.3,95.3M587.3,95.3 L593.2,97.5M593.2,97.5 L603.3,101.1M603.3,101.1 L605.0,101.8M541.6,82.3 L551.2,85.8M558.5,88.5 L570.4,92.8M570.4,92.8 L575.4,94.6M575.4,94.6 L587.0,98.9M587.0,98.9 L594.4,101.6M594.4,101.6 L605.0,105.4M534.6,83.3 L540.7,85.5M540.7,85.5 L546.1,87.4M572.3,97.0 L586.6,102.2M593.3,104.6 L605.0,108.9M520.4,82.6 L528.5,85.5M528.5,85.5 L533.7,87.4M539.0,89.4 L546.4,92.0M546.4,92.0 L560.4,97.1M567.9,99.9 L578.9,103.9M578.9,103.9 L591.0,108.3M591.0,108.3 L598.6,111.0M516.2,83.7 L516.8,83.9M516.8,83.9 L529.5,88.5M529.5,88.5 L536.3,91.0M536.3,91.0 L543.5,93.6M543.5,93.6 L548.6,95.4M570.5,103.4 L577.9,106.1M577.9,106.1 L583.6,108.2M583.6,108.2 L595.6,112.6M595.6,112.6 L602.8,115.2M602.8,115.2 L605.0,116.0M524.8,90.7 L530.6,92.8M543.8,97.6 L557.9,102.7M557.9,102.7 L565.7,105.6M591.6,115.0 L600.9,118.4M505.2,86.6 L507.4,87.4M507.4,87.4 L516.2,90.6M516.2,90.6 L527.5,94.7M527.5,94.7 L533.9,97.0M533.9,97.0 L542.8,100.3M550.7,103.2 L558.6,106.1M558.6,106.1 L567.0,109.1M580.6,114.1 L589.1,117.1M589.1,117.1 L601.3,121.6M498.8,88.3 L501.6,89.4M511.4,92.9 L526.1,98.3M532.1,100.5 L546.9,105.9M572.0,115.0 L578.3,117.3M578.3,117.3 L585.3,119.8M598.8,124.7 L605.0,127.0M493.3,89.8 L500.5,92.4M500.5,92.4 L509.6,95.7M509.6,95.7 L518.9,99.1M518.9,99.1 L523.9,100.9M523.9,100.9 L533.6,104.4M533.6,104.4 L546.2,109.0M546.2,109.0 L555.7,112.5M555.7,112.5 L565.2,115.9M565.2,115.9 L571.3,118.1M571.3,118.1 L576.9,120.2M576.9,120.2 L586.9,123.8M586.9,123.8 L598.2,127.9M598.2,127.9 L605.0,130.4M499.8,96.0 L506.2,98.3M506.2,98.3 L520.5,103.6M520.5,103.6 L528.9,106.6M542.7,111.6 L548.9,113.9M548.9,113.9 L563.1,119.1M563.1,119.1 L570.5,121.8M570.5,121.8 L578.5,124.7M578.5,124.7 L585.1,127.1M585.1,127.1 L599.5,132.3M599.5,132.3 L605.0,134.3M482.7,92.7 L495.7,97.4M495.7,97.4 L510.6,102.8M510.6,102.8 L519.0,105.9M519.0,105.9 L528.3,109.3M528.3,109.3 L540.7,113.8M540.7,113.8 L553.9,118.6M565.2,122.7 L575.9,126.6M575.9,126.6 L583.9,129.5M583.9,129.5 L588.9,131.3M588.9,131.3 L600.0,135.3M477.6,94.0 L490.2,98.6M490.2,98.6 L496.5,100.9M507.8,105.0 L520.5,109.6M520.5,109.6 L528.0,112.3M528.0,112.3 L539.3,116.5M539.3,116.5 L547.7,119.5M556.9,122.9 L569.2,127.3M569.2,127.3 L583.3,132.5M583.3,132.5 L593.5,136.2M593.5,136.2 L600.6,138.8M600.6,138.8 L605.0,140.4M470.9,95.8 L478.0,98.3M482.7,100.1 L495.1,104.6M495.1,104.6 L507.5,109.1M507.5,109.1 L514.5,111.6M514.5,111.6 L521.6,114.2M521.6,114.2 L529.8,117.2M541.7,121.5 L553.7,125.9M553.7,125.9 L564.1,129.7M564.1,129.7 L577.0,134.4M577.0,134.4 L584.4,137.1M584.4,137.1 L599.1,142.4M599.1,142.4 L605.0,144.6M465.1,97.3 L468.0,98.4M468.0,98.4 L479.9,102.7M479.9,102.7 L494.7,108.1M494.7,108.1 L508.1,112.9M508.1,112.9 L521.7,117.9M521.7,117.9 L533.8,122.3M533.8,122.3 L541.7,125.2M541.7,125.2 L552.9,129.2M552.9,129.2 L567.0,134.4M567.0,134.4 L572.0,136.2M572.0,136.2 L586.3,141.4M586.3,141.4 L592.4,143.6M592.4,143.6 L597.5,145.5M597.5,145.5 L605.0,148.2M469.3,102.4 L475.1,104.5M475.1,104.5 L481.0,106.7M505.7,115.7 L516.9,119.8M516.9,119.8 L522.7,121.8M522.7,121.8 L535.2,126.4M535.2,126.4 L543.2,129.3M543.2,129.3 L548.1,131.1M548.1,131.1 L555.7,133.9M555.7,133.9 L564.2,137.0M564.2,137.0 L578.9,142.3M578.9,142.3 L592.4,147.2M592.4,147.2 L597.4,149.0M597.4,149.0 L605.0,151.8M455.1,100.8 L463.6,103.8M463.6,103.8 L473.3,107.4M473.3,107.4 L486.3,112.1M486.3,112.1 L496.1,115.7M496.1,115.7 L509.4,120.5M509.4,120.5 L523.8,125.8M523.8,125.8 L530.7,128.3M530.7,128.3 L540.6,131.9M540.6,131.9 L551.9,136.0M551.9,136.0 L564.7,140.7M564.7,140.7 L577.5,145.3M577.5,145.3 L585.9,148.4M600.3,153.6 L605.0,155.3M455.6,104.0 L457.2,104.6M457.2,104.6 L465.5,107.6M471.8,109.9 L483.3,114.1M483.3,114.1 L489.8,116.4M489.8,116.4 L502.5,121.1M502.5,121.1 L508.5,123.3M508.5,123.3 L522.3,128.3M522.3,128.3 L529.0,130.7M541.0,135.1 L547.3,137.4M547.3,137.4 L554.5,140.0M554.5,140.0 L564.6,143.7M564.6,143.7 L572.7,146.6M572.7,146.6 L587.5,152.0M593.2,154.1 L599.0,156.2M599.0,156.2 L605.0,158.4M456.0,107.3 L456.7,107.6M456.7,107.6 L469.5,112.3M469.5,112.3 L479.4,115.8M479.4,115.8 L488.9,119.3M488.9,119.3 L499.8,123.3M512.2,127.8 L521.3,131.1M521.3,131.1 L533.8,135.6M533.8,135.6 L540.9,138.2M540.9,138.2 L554.6,143.2M566.6,147.6 L578.3,151.8M578.3,151.8 L587.7,155.3M587.7,155.3 L598.9,159.3M598.9,159.3 L605.0,161.6M456.6,111.4 L461.7,113.2M461.7,113.2 L474.4,117.9M484.2,121.4 L489.3,123.3M489.3,123.3 L495.6,125.6M495.6,125.6 L510.0,130.8M510.0,130.8 L515.8,132.9M515.8,132.9 L526.1,136.7M526.1,136.7 L536.1,140.3M536.1,140.3 L549.3,145.1M558.3,148.4 L565.1,150.9M565.1,150.9 L573.9,154.1M579.9,156.2 L588.2,159.3M588.2,159.3 L595.8,162.0M595.8,162.0 L600.6,163.8M600.6,163.8 L605.0,165.4M457.2,115.7 L461.0,117.1M473.7,121.7 L484.9,125.8M484.9,125.8 L495.4,129.7M495.4,129.7 L510.1,135.0M521.4,139.1 L534.5,143.9M534.5,143.9 L542.3,146.7M556.6,151.9 L564.1,154.6M564.1,154.6 L571.4,157.3M571.4,157.3 L578.0,159.7M578.0,159.7 L590.2,164.1M590.2,164.1 L597.4,166.8M597.4,166.8 L605.0,169.5M457.7,119.3 L466.6,122.6M471.4,124.3 L482.9,128.5M482.9,128.5 L488.6,130.6M488.6,130.6 L495.7,133.2M495.7,133.2 L504.0,136.2M504.0,136.2 L518.1,141.3M524.5,143.6 L535.5,147.6M559.9,156.5 L566.7,159.0M566.7,159.0 L576.9,162.7M586.1,166.0 L596.5,169.8M596.5,169.8 L602.2,171.9M458.2,122.5 L465.7,125.3M465.7,125.3 L476.2,129.1M476.2,129.1 L489.6,134.0M498.6,137.3 L504.1,139.3M504.1,139.3 L515.4,143.4M515.4,143.4 L526.4,147.4M526.4,147.4 L540.7,152.6M540.7,152.6 L555.6,158.0M565.3,161.5 L570.3,163.4M570.3,163.4 L581.5,167.4M581.5,167.4 L595.1,172.4M595.1,172.4 L599.4,173.9M458.7,126.3 L464.1,128.3M474.0,131.9 L485.5,136.1M485.5,136.1 L493.6,139.0M493.6,139.0 L501.4,141.9M501.4,141.9 L512.7,146.0M512.7,146.0 L517.8,147.8M517.8,147.8 L531.6,152.9M531.6,152.9 L536.9,154.8M536.9,154.8 L541.6,156.5M541.6,156.5 L555.8,161.7M555.8,161.7 L567.3,165.9M567.3,165.9 L581.4,171.0M581.4,171.0 L592.5,175.0M592.5,175.0 L596.0,176.3M460.0,130.6 L472.8,135.2M472.8,135.2 L480.2,137.9M480.2,137.9 L489.2,141.2M489.2,141.2 L498.4,144.5M498.4,144.5 L512.7,149.8M512.7,149.8 L523.3,153.6M539.9,159.6 L549.2,163.0M549.2,163.0 L557.9,166.2M572.3,171.4 L581.9,174.9M581.9,174.9 L587.6,177.0M587.6,177.0 L592.5,178.8M459.8,134.1 L461.0,134.6M473.1,139.0 L485.3,143.4M485.3,143.4 L496.5,147.5M513.3,153.6 L525.4,158.0M525.4,158.0 L530.2,159.8M530.2,159.8 L543.4,164.6M543.4,164.6 L551.3,167.5M557.7,169.8 L567.4,173.3M567.4,173.3 L575.9,176.4M575.9,176.4 L585.2,179.8M585.2,179.8 L589.0,181.2M460.3,137.9 L472.7,142.5M483.7,146.4 L497.0,151.3M497.0,151.3 L504.9,154.2M504.9,154.2 L518.7,159.2M518.7,159.2 L530.5,163.5M544.5,168.6 L552.1,171.3M552.1,171.3 L559.5,174.0M570.3,178.0 L584.1,183.0M460.8,141.5 L474.7,146.5M474.7,146.5 L485.6,150.5M485.6,150.5 L495.2,154.0M495.2,154.0 L502.5,156.6M502.5,156.6 L515.4,161.3M521.0,163.4 L533.7,168.0M544.3,171.9 L558.2,176.9M558.2,176.9 L567.8,180.4M567.8,180.4 L574.5,182.8M574.5,182.8 L581.0,185.2M581.0,185.2 L582.5,185.7M467.9,146.7 L477.6,150.2M477.6,150.2 L485.0,152.9M506.8,160.8 L521.4,166.1M521.4,166.1 L526.5,168.0M526.5,168.0 L533.1,170.4M533.1,170.4 L538.3,172.3M538.3,172.3 L552.0,177.3M566.5,182.5 L571.9,184.5M571.9,184.5 L580.0,187.5M473.4,152.5 L486.7,157.4M486.7,157.4 L499.6,162.1M510.9,166.2 L516.2,168.1M528.7,172.7 L540.4,176.9M540.4,176.9 L551.2,180.9M551.2,180.9 L557.0,183.0M557.0,183.0 L564.4,185.6M564.4,185.6 L574.0,189.2M574.0,189.2 L576.4,190.0M466.1,154.0 L468.4,154.8M476.6,157.8 L486.2,161.3M486.2,161.3 L492.4,163.6M492.4,163.6 L497.7,165.5M497.7,165.5 L508.1,169.3M508.1,169.3 L521.8,174.3M521.8,174.3 L530.8,177.5M538.3,180.3 L546.4,183.2M546.4,183.2 L556.2,186.8M556.2,186.8 L570.2,191.9M570.2,191.9 L572.5,192.7M470.4,158.2 L474.2,159.6M474.2,159.6 L489.0,165.0M489.0,165.0 L502.0,169.7M502.0,169.7 L508.2,172.0M508.2,172.0 L521.5,176.8M521.5,176.8 L528.1,179.2M528.1,179.2 L542.2,184.4M542.2,184.4 L552.8,188.2M552.8,188.2 L559.4,190.6M559.4,190.6 L570.0,194.5M476.2,163.8 L481.0,165.6M481.0,165.6 L494.3,170.4M494.3,170.4 L500.7,172.8M500.7,172.8 L511.5,176.7M511.5,176.7 L521.6,180.4M521.6,180.4 L531.6,184.0M543.7,188.4 L557.4,193.4M557.4,193.4 L566.7,196.8M481.5,169.1 L489.6,172.0M489.6,172.0 L503.3,177.0M503.3,177.0 L508.5,178.9M508.5,178.9 L518.3,182.4M518.3,182.4 L525.9,185.2M525.9,185.2 L534.8,188.4M545.6,192.4 L551.8,194.6M551.8,194.6 L559.5,197.5M488.8,176.2 L498.4,179.7M498.4,179.7 L507.5,183.0M507.5,183.0 L515.9,186.1M515.9,186.1 L521.3,188.0M521.3,188.0 L531.3,191.6M493.5,180.7 L498.7,182.6M498.7,182.6 L506.4,185.4M506.4,185.4 L512.0,187.5M512.0,187.5 L525.3,192.3M525.3,192.3 L531.8,194.7M499.8,186.9 L505.4,189.0M505.4,189.0 L513.6,192.0M513.6,192.0 L517.0,193.2M605.0,169.2 L604.6,170.3M605.0,159.2 L603.4,163.7M603.4,163.7 L601.0,170.1M601.0,170.1 L599.7,173.7M605.0,147.4 L604.4,148.9M604.4,148.9 L601.7,156.3M596.2,171.7 L594.2,176.9M594.2,176.9 L593.9,177.7M605.0,133.1 L599.7,147.5M599.7,147.5 L595.2,160.0M595.2,160.0 L593.4,165.0M593.4,165.0 L591.4,170.4M591.4,170.4 L587.6,180.8M587.6,180.8 L587.0,182.6M605.0,120.6 L601.9,129.2M596.7,143.4 L592.7,154.6M592.7,154.6 L590.0,161.9M590.0,161.9 L586.7,171.0M586.7,171.0 L584.2,177.8M584.2,177.8 L580.9,186.9M605.0,110.0 L600.2,123.2M595.2,136.8 L592.4,144.6M588.5,155.2 L586.3,161.5M586.3,161.5 L584.2,167.2M584.2,167.2 L579.9,179.0M605.0,98.8 L603.5,102.9M603.5,102.9 L599.2,114.7M599.2,114.7 L594.7,127.0M594.7,127.0 L592.6,132.9M589.0,142.7 L586.0,151.0M580.7,165.7 L576.2,178.0M576.2,178.0 L573.8,184.5M573.8,184.5 L571.8,189.9M571.8,189.9 L570.2,194.3M602.2,91.9 L597.7,104.1M593.7,115.1 L591.0,122.4M591.0,122.4 L587.9,131.0M587.9,131.0 L585.5,137.8M585.5,137.8 L580.6,151.2M580.6,151.2 L575.5,165.3M575.5,165.3 L571.1,177.1M571.1,177.1 L567.0,188.5M564.1,196.5 L563.6,197.9M599.0,88.4 L598.3,90.3M598.3,90.3 L594.3,101.3M594.3,101.3 L589.1,115.4M589.1,115.4 L584.7,127.6M584.7,127.6 L581.2,137.2M579.0,143.4 L575.3,153.5M571.6,163.7 L569.0,170.9M569.0,170.9 L564.2,184.1M596.0,85.1 L594.0,90.5M594.0,90.5 L589.4,103.0M589.4,103.0 L585.1,114.8M585.1,114.8 L581.5,124.9M581.5,124.9 L578.4,133.4M578.4,133.4 L575.2,142.0M575.2,142.0 L572.8,148.8M572.8,148.8 L570.8,154.1M570.8,154.1 L566.4,166.2M566.4,166.2 L563.5,174.3M563.5,174.3 L558.6,187.6M591.1,86.5 L586.7,98.6M586.7,98.6 L582.5,110.2M582.5,110.2 L580.5,115.6M580.5,115.6 L577.4,124.2M573.8,134.0 L569.3,146.6M569.3,146.6 L565.3,157.4M561.9,166.9 L558.6,175.8M558.6,175.8 L553.5,189.8M553.5,189.8 L551.0,196.6M589.4,77.8 L587.5,82.8M587.5,82.8 L583.2,94.8M583.2,94.8 L581.2,100.1M581.2,100.1 L578.0,109.1M572.5,124.1 L567.5,137.8M567.5,137.8 L564.5,146.0M562.8,150.7 L560.1,158.3M560.1,158.3 L557.2,166.2M557.2,166.2 L552.2,179.8M552.2,179.8 L548.6,189.8M548.6,189.8 L546.7,195.0M586.4,74.6 L583.7,82.0M583.7,82.0 L580.9,89.9M580.9,89.9 L577.6,98.8M577.6,98.8 L574.7,106.9M574.7,106.9 L570.0,119.8M565.6,131.9 L561.7,142.7M561.7,142.7 L556.4,157.0M556.4,157.0 L551.4,170.8M551.4,170.8 L548.1,180.0M546.2,185.2 L544.2,190.6M583.5,71.3 L583.0,72.7M580.3,80.1 L576.0,91.9M576.0,91.9 L574.1,97.2M572.2,102.3 L569.4,110.0M569.4,110.0 L565.5,120.7M565.5,120.7 L561.7,131.2M561.7,131.2 L556.5,145.4M556.5,145.4 L551.7,158.7M546.9,171.7 L543.8,180.5M543.8,180.5 L540.6,189.1M540.6,189.1 L538.3,195.3M579.6,67.1 L579.1,68.6M579.1,68.6 L576.1,76.9M572.5,86.7 L570.4,92.4M570.4,92.4 L565.5,106.0M565.5,106.0 L561.7,116.3M561.7,116.3 L559.5,122.4M551.9,143.4 L550.0,148.5M550.0,148.5 L544.7,163.1M544.7,163.1 L539.4,177.6M539.4,177.6 L537.5,182.8M537.5,182.8 L534.1,192.2M534.1,192.2 L533.2,194.8M576.9,64.1 L575.7,67.4M575.7,67.4 L571.5,78.9M566.1,93.5 L561.1,107.2M561.1,107.2 L558.9,113.5M558.9,113.5 L553.9,127.3M553.9,127.3 L550.3,137.1M550.3,137.1 L548.1,143.0M548.1,143.0 L545.8,149.4M545.8,149.4 L542.2,159.3M542.2,159.3 L539.7,166.1M539.7,166.1 L537.3,172.9M572.7,62.9 L568.7,74.0M568.7,74.0 L566.8,79.3M562.8,90.2 L560.9,95.3M548.4,129.7 L545.2,138.6M545.2,138.6 L543.1,144.2M543.1,144.2 L538.7,156.5M538.7,156.5 L536.4,162.8M536.4,162.8 L534.1,168.9M534.1,168.9 L531.6,175.9M526.2,190.7 L525.0,194.0M567.4,65.1 L566.8,66.7M566.8,66.7 L561.4,81.4M561.4,81.4 L556.9,93.8M552.1,107.0 L547.0,121.1M542.1,134.4 L538.2,145.2M538.2,145.2 L533.4,158.4M533.4,158.4 L528.4,172.1M528.4,172.1 L523.1,186.7M523.1,186.7 L520.6,193.6M562.4,67.1 L560.9,71.2M560.9,71.2 L556.2,84.0M551.9,95.7 L547.1,109.0M547.1,109.0 L545.1,114.6M545.1,114.6 L540.2,127.9M536.3,138.8 L531.6,151.7M531.6,151.7 L528.0,161.4M525.9,167.2 L522.6,176.3M522.6,176.3 L519.2,185.7M519.2,185.7 L516.7,192.6M516.7,192.6 L516.5,193.1M550.3,86.6 L547.1,95.4M547.1,95.4 L541.8,110.0M541.8,110.0 L536.4,124.9M536.4,124.9 L531.6,138.2M531.6,138.2 L527.9,148.3M522.1,164.2 L519.4,171.5M519.4,171.5 L517.3,177.3M517.3,177.3 L512.4,190.9M552.1,71.2 L550.0,76.7M550.0,76.7 L544.6,91.5M544.6,91.5 L539.8,104.8M539.8,104.8 L536.0,115.3M531.5,127.8 L527.0,140.0M527.0,140.0 L525.2,145.1M522.9,151.2 L517.9,165.1M517.9,165.1 L513.9,175.9M513.9,175.9 L512.1,181.0M512.1,181.0 L508.0,192.3M546.3,73.5 L542.0,85.3M542.0,85.3 L539.8,91.4M539.8,91.4 L534.8,105.2M534.8,105.2 L530.3,117.5M530.3,117.5 L527.4,125.5M527.4,125.5 L524.6,133.2M519.2,147.9 L516.8,154.6M516.8,154.6 L511.6,169.0M511.6,169.0 L508.7,177.0M508.7,177.0 L506.5,182.8M506.5,182.8 L503.7,190.7M541.7,75.3 L539.4,81.4M539.4,81.4 L536.7,89.1M536.7,89.1 L534.0,96.5M532.1,101.6 L528.3,112.1M528.3,112.1 L523.0,126.6M523.0,126.6 L520.4,133.8M520.4,133.8 L516.6,144.1M516.6,144.1 L512.4,155.9M512.4,155.9 L507.6,168.9M507.6,168.9 L504.7,176.8M504.7,176.8 L500.7,187.8M536.3,77.5 L536.0,78.3M536.0,78.3 L534.1,83.7M530.5,93.6 L526.2,105.2M526.2,105.2 L523.0,114.0M515.6,134.4 L513.3,140.7M513.3,140.7 L508.8,153.2M531.3,79.5 L527.5,89.8M527.5,89.8 L524.8,97.4M524.8,97.4 L521.4,106.7M521.4,106.7 L516.6,119.7M516.6,119.7 L511.8,133.0M511.8,133.0 L509.2,140.0M509.2,140.0 L506.3,148.2M506.3,148.2 L502.4,158.8M502.4,158.8 L497.7,171.7M525.6,81.2 L524.2,85.1M524.2,85.1 L518.7,100.0M518.7,100.0 L515.2,109.7M515.2,109.7 L511.8,119.1M511.8,119.1 L507.4,131.1M507.4,131.1 L504.4,139.3M504.4,139.3 L501.2,148.2M501.2,148.2 L498.8,154.9M498.8,154.9 L495.1,164.9M495.1,164.9 L492.7,171.7M492.7,171.7 L490.4,177.8M518.0,89.7 L515.2,97.6M515.2,97.6 L512.8,104.1M507.7,118.1 L504.3,127.5M504.3,127.5 L502.2,133.3M502.2,133.3 L497.5,146.0M492.1,160.9 L487.4,173.9M487.4,173.9 L487.1,174.6M515.4,83.9 L514.4,86.6M514.4,86.6 L509.6,99.9M509.6,99.9 L506.1,109.4M506.1,109.4 L501.1,123.2M501.1,123.2 L499.1,128.7M495.0,139.8 L491.5,149.5M491.5,149.5 L489.0,156.4M489.0,156.4 L483.9,170.4M483.9,170.4 L483.6,171.1M511.1,85.0 L505.7,99.8M505.7,99.8 L502.6,108.5M502.6,108.5 L497.8,121.7M497.8,121.7 L493.3,134.1M491.2,139.8 L486.5,152.8M486.5,152.8 L484.6,158.0M484.6,158.0 L480.8,168.4M505.7,86.5 L504.6,89.4M504.6,89.4 L500.8,99.8M500.8,99.8 L497.6,108.6M497.6,108.6 L493.1,121.0M488.3,134.2 L484.9,143.7M484.9,143.7 L480.7,155.1M480.7,155.1 L477.4,164.2M477.4,164.2 L477.2,164.8M501.4,87.6 L499.9,91.5M499.9,91.5 L494.8,105.7M490.1,118.6 L485.2,132.0M485.2,132.0 L483.4,137.0M483.4,137.0 L478.5,150.5M478.5,150.5 L474.3,162.0M496.0,89.1 L494.4,93.5M489.8,106.2 L485.1,119.1M483.0,124.9 L480.1,132.8M480.1,132.8 L477.0,141.3M477.0,141.3 L471.6,156.0M471.6,156.0 L470.7,158.5M492.0,90.1 L490.9,93.0M488.2,100.4 L484.1,111.8M484.1,111.8 L479.9,123.3M479.9,123.3 L475.6,135.1M475.6,135.1 L473.6,140.5M473.6,140.5 L471.9,145.3M471.9,145.3 L469.6,151.5M486.9,91.5 L483.3,101.4M483.3,101.4 L479.1,112.9M479.1,112.9 L474.9,124.5M474.9,124.5 L472.6,130.7M472.6,130.7 L467.2,145.5M467.2,145.5 L464.7,152.6M481.7,92.9 L479.8,98.1M479.8,98.1 L475.5,110.1M475.5,110.1 L473.3,116.0M473.3,116.0 L470.9,122.5M470.9,122.5 L467.6,131.8M467.6,131.8 L465.6,137.2M462.1,146.7 L461.7,147.9M476.9,94.2 L475.2,98.8M475.2,98.8 L472.8,105.4M472.8,105.4 L468.6,116.8M468.6,116.8 L466.8,121.8M466.8,121.8 L462.3,134.1M462.3,134.1 L460.5,139.2M470.9,95.8 L467.2,105.8M467.2,105.8 L461.8,120.8M464.8,101.7 L459.5,116.3M459.5,116.3 L457.9,120.8M461.3,98.3 L460.4,101.0M460.4,101.0 L456.9,110.5M456.9,110.5 L456.6,111.4M456.8,99.5 L455.5,103.3" stroke="#fff" stroke-width="0.55" stroke-opacity="0.56" fill="none"/><path d="M626.9,48.8 L638.4,51.3M638.4,51.3 L640.6,51.8M616.2,49.5 L626.3,51.7M626.3,51.7 L632.5,53.0M632.5,53.0 L640.8,54.8M601.8,50.5 L604.7,51.1M616.8,53.7 L627.8,56.0M627.8,56.0 L639.3,58.4M639.3,58.4 L641.9,59.0M589.1,51.3 L594.1,52.3M594.1,52.3 L605.8,54.8M605.8,54.8 L613.2,56.4M613.2,56.4 L625.7,59.1M625.7,59.1 L637.0,61.5M637.0,61.5 L642.5,62.6M576.4,52.7 L583.4,54.2M583.4,54.2 L595.9,56.9M595.9,56.9 L609.1,59.7M609.1,59.7 L615.0,60.9M615.0,60.9 L621.2,62.2M626.6,63.4 L636.2,65.4M636.2,65.4 L642.3,66.7M642.3,66.7 L643.2,66.9M573.7,55.6 L580.2,57.0M580.2,57.0 L592.3,59.6M592.3,59.6 L598.8,60.9M598.8,60.9 L606.6,62.6M606.6,62.6 L619.7,65.4M619.7,65.4 L631.5,67.9M631.5,67.9 L643.8,70.5M569.3,59.0 L580.2,61.3M580.2,61.3 L587.1,62.7M599.2,65.3 L612.3,68.1M612.3,68.1 L623.2,70.4M623.2,70.4 L631.6,72.2M631.6,72.2 L637.7,73.5M637.7,73.5 L644.6,75.0M561.7,60.8 L567.8,62.1M567.8,62.1 L581.2,64.9M581.2,64.9 L590.9,67.0M590.9,67.0 L596.1,68.1M596.1,68.1 L602.1,69.3M602.1,69.3 L612.5,71.6M612.5,71.6 L625.7,74.4M633.8,76.1 L644.3,78.3M644.3,78.3 L645.2,78.5M556.9,62.9 L562.0,64.0M562.0,64.0 L567.0,65.1M567.0,65.1 L573.7,66.5M579.6,67.8 L590.4,70.1M603.5,72.8 L614.3,75.1M614.3,75.1 L619.2,76.2M627.9,78.0 L635.5,79.6M635.5,79.6 L640.5,80.7M640.5,80.7 L645.8,81.8M553.2,66.4 L558.0,67.4M558.0,67.4 L571.4,70.3M571.4,70.3 L582.4,72.6M594.6,75.2 L600.5,76.5M600.5,76.5 L607.8,78.0M607.8,78.0 L615.9,79.7M629.2,82.5 L642.8,85.4M642.8,85.4 L646.5,86.2M550.1,69.3 L552.1,69.7M552.1,69.7 L558.3,71.0M558.3,71.0 L570.2,73.6M570.2,73.6 L579.5,75.6M579.5,75.6 L589.3,77.6M589.3,77.6 L599.0,79.7M599.0,79.7 L604.4,80.8M604.4,80.8 L611.4,82.3M618.4,83.8 L625.4,85.3M625.4,85.3 L634.5,87.2M634.5,87.2 L642.4,88.9M642.4,88.9 L647.1,89.9M547.1,72.1 L547.8,72.2M547.8,72.2 L553.5,73.4M553.5,73.4 L562.1,75.2M571.5,77.2 L578.5,78.7M578.5,78.7 L586.1,80.4M586.1,80.4 L599.0,83.1M599.0,83.1 L607.7,84.9M607.7,84.9 L613.0,86.1M613.0,86.1 L625.3,88.7M625.3,88.7 L631.6,90.0M631.6,90.0 L637.0,91.2M637.0,91.2 L644.8,92.8M644.8,92.8 L647.7,93.5M543.9,75.1 L547.6,75.9M547.6,75.9 L556.0,77.6M556.0,77.6 L561.7,78.9M561.7,78.9 L575.3,81.8M575.3,81.8 L582.5,83.3M582.5,83.3 L589.4,84.7M589.4,84.7 L600.3,87.1M600.3,87.1 L606.6,88.4M616.3,90.5 L629.3,93.2M629.3,93.2 L638.6,95.2M638.6,95.2 L641.6,95.8M540.9,77.9 L543.4,78.4M543.4,78.4 L552.5,80.3M552.5,80.3 L563.5,82.6M573.4,84.8 L578.7,85.9M578.7,85.9 L590.7,88.4M590.7,88.4 L598.4,90.1M598.4,90.1 L608.4,92.2M608.4,92.2 L616.4,93.9M616.4,93.9 L624.5,95.6M537.9,80.7 L539.0,81.0M539.0,81.0 L549.8,83.3M549.8,83.3 L555.0,84.4M607.8,95.6 L617.6,97.7M617.6,97.7 L621.5,98.5M534.3,84.1 L539.7,85.2M539.7,85.2 L549.3,87.3M549.3,87.3 L561.0,89.7M561.0,89.7 L572.7,92.2M579.8,93.7 L589.2,95.7M589.2,95.7 L596.7,97.3M531.4,86.8 L541.6,89.0M541.6,89.0 L552.6,91.3M552.6,91.3 L558.0,92.5M563.2,93.6 L571.3,95.3M647.1,89.5 L645.8,95.3M645.2,78.7 L643.9,85.2M643.9,85.2 L641.6,95.8M643.0,65.8 L641.3,73.8M641.3,73.8 L639.8,81.1M639.8,81.1 L637.8,90.5M641.0,53.8 L640.8,54.6M640.8,54.6 L639.6,60.2M639.6,60.2 L638.2,66.8M636.9,72.9 L635.1,81.5M633.6,88.5 L632.5,93.8M637.6,48.2 L636.9,51.3M636.9,51.3 L635.7,57.2M635.7,57.2 L633.7,66.5M633.7,66.5 L632.0,74.7M632.0,74.7 L629.3,87.4M633.2,48.4 L631.7,55.6M631.7,55.6 L629.4,66.3M629.4,66.3 L627.5,75.3M627.5,75.3 L625.2,86.3M623.8,92.9 L622.6,98.3M627.7,48.8 L626.5,54.4M623.7,67.5 L621.0,80.1M621.0,80.1 L618.5,92.0M618.5,92.0 L617.0,99.1M623.8,49.0 L623.1,52.2M623.1,52.2 L621.6,59.4M621.6,59.4 L620.5,64.4M620.5,64.4 L618.8,72.6M618.8,72.6 L616.1,85.1M615.1,90.0 L613.6,96.9M613.6,96.9 L613.0,99.6M618.2,49.4 L617.0,55.4M617.0,55.4 L615.6,62.0M615.6,62.0 L613.5,71.9M613.5,71.9 L611.2,82.4M608.5,95.4 L607.6,99.7M612.8,52.9 L611.3,60.0M611.3,60.0 L608.6,72.7M608.6,72.7 L607.3,78.8M605.6,86.6 L603.0,99.1M608.8,50.0 L606.6,60.3M606.6,60.3 L605.0,68.0M605.0,68.0 L602.1,81.7M602.1,81.7 L600.4,89.5M600.4,89.5 L599.2,95.3M604.5,50.3 L603.3,56.0M601.2,66.1 L598.3,79.7M597.2,85.0 L594.9,95.8M600.0,50.6 L599.9,51.1M599.9,51.1 L598.0,60.0M595.6,71.3 L593.4,81.7M593.4,81.7 L591.1,92.2M593.3,62.0 L591.8,69.0M591.8,69.0 L590.1,77.3M590.1,77.3 L587.5,89.3M587.5,89.3 L585.9,97.1M590.1,53.5 L588.1,62.9M584.1,81.8 L581.6,93.8M585.6,51.5 L585.5,52.2M585.5,52.2 L583.4,61.8M580.8,74.3 L579.3,81.3M579.3,81.3 L577.0,92.1M577.0,92.1 L576.2,95.9M581.8,51.8 L580.9,56.1M580.9,56.1 L578.5,67.3M578.5,67.3 L576.5,76.8M576.5,76.8 L575.2,82.8M575.2,82.8 L573.6,90.3M573.6,90.3 L572.5,95.4M576.7,52.6 L575.3,59.1M572.7,71.4 L570.9,79.6M570.9,79.6 L568.7,90.1M568.7,90.1 L567.7,94.8M571.5,54.9 L570.8,58.4M566.4,79.0 L565.0,85.7M565.0,85.7 L563.2,94.3M566.3,57.2 L565.6,60.8M565.6,60.8 L563.7,69.3M563.7,69.3 L560.9,82.5M560.9,82.5 L558.9,92.1M558.9,92.1 L558.6,93.7M560.4,62.3 L557.8,74.4M557.8,74.4 L556.6,79.9M556.6,79.9 L554.4,90.5M554.4,90.5 L553.8,93.1M555.4,64.3 L555.3,65.2M555.3,65.2 L552.6,77.5M550.8,86.3 L549.4,92.6M549.5,69.9 L547.5,79.6M547.5,79.6 L545.5,88.8M545.5,88.8 L544.8,92.1M544.0,75.0 L543.2,79.0M543.2,79.0 L541.2,88.5M538.8,79.9 L538.5,81.1M538.5,81.1 L536.4,91.0M532.1,86.4 L531.2,90.4" stroke="#fff" stroke-width="0.55" stroke-opacity="0.52" fill="none"/><path d="M637.0,174.0 L644.8,176.5M607.8,170.4 L609.4,170.9M609.4,170.9 L624.6,175.8M624.6,175.8 L639.6,180.7M639.6,180.7 L644.1,182.1M600.4,173.3 L606.7,175.3M606.7,175.3 L620.1,179.7M620.1,179.7 L635.0,184.5M635.0,184.5 L643.5,187.3M594.6,177.3 L605.8,181.0M605.8,181.0 L616.6,184.5M616.6,184.5 L631.5,189.3M631.5,189.3 L642.8,193.0M589.0,181.2 L596.0,183.5M596.0,183.5 L605.2,186.5M631.5,195.0 L642.1,198.5M582.7,185.6 L586.6,186.9M610.2,194.5 L625.2,199.4M625.2,199.4 L632.9,201.9M579.1,189.7 L587.7,192.5M587.7,192.5 L604.2,197.9M604.2,197.9 L616.3,201.8M571.5,193.5 L582.6,197.1M582.6,197.1 L591.5,200.0M621.7,209.8 L632.1,213.2M632.1,213.2 L639.6,215.6M566.3,197.1 L571.1,198.6M571.1,198.6 L585.4,203.3M585.4,203.3 L595.3,206.5M595.3,206.5 L605.9,209.9M618.3,214.0 L626.4,216.6M626.4,216.6 L636.7,219.9M546.6,196.2 L551.2,197.6M551.2,197.6 L561.1,200.9M573.8,205.0 L584.9,208.6M584.9,208.6 L598.4,213.0M598.4,213.0 L609.0,216.4M609.0,216.4 L620.0,220.0M522.6,194.7 L530.6,197.3M530.6,197.3 L547.6,202.8M547.6,202.8 L556.8,205.8M556.8,205.8 L571.0,210.4M571.0,210.4 L587.3,215.7M587.3,215.7 L593.0,217.6M593.0,217.6 L599.2,219.5M599.2,219.5 L605.2,221.5M605.2,221.5 L618.1,225.7M618.1,225.7 L630.2,229.6M503.6,194.1 L516.6,198.4M516.6,198.4 L522.7,200.3M542.3,206.7 L552.5,210.0M552.5,210.0 L563.0,213.4M596.2,224.2 L609.9,228.7M616.0,230.7 L627.1,234.3M500.9,198.3 L502.1,198.7M524.0,205.8 L538.8,210.6M538.8,210.6 L544.6,212.5M559.9,217.5 L571.5,221.2M571.5,221.2 L587.0,226.3M587.0,226.3 L596.4,229.3M596.4,229.3 L613.4,234.8M523.3,212.5 L532.9,215.6M547.1,220.3 L562.9,225.4M578.3,230.4 L590.5,234.4M590.5,234.4 L602.7,238.3M602.7,238.3 L609.5,240.6M609.5,240.6 L616.7,242.9M499.5,210.1 L507.2,212.6M507.2,212.6 L518.7,216.4M518.7,216.4 L527.8,219.4M539.0,223.0 L551.3,227.0M563.7,231.0 L573.6,234.2M590.5,239.7 L597.6,242.0M597.6,242.0 L605.9,244.7M605.9,244.7 L606.7,245.0M494.2,213.8 L505.5,217.5M513.9,220.2 L524.8,223.8M539.8,228.7 L546.9,231.0M546.9,231.0 L559.1,234.9M559.1,234.9 L568.4,238.0M568.4,238.0 L581.8,242.3M581.8,242.3 L590.1,245.0M490.5,218.4 L499.1,221.3M499.1,221.3 L512.5,225.6M512.5,225.6 L522.6,228.9M522.6,228.9 L537.4,233.7M537.4,233.7 L544.6,236.0M544.6,236.0 L557.7,240.3M569.3,244.1 L572.2,245.0M485.1,222.1 L489.6,223.5M489.6,223.5 L502.1,227.6M511.7,230.7 L521.9,234.0M484.7,228.2 L499.5,233.1M499.5,233.1 L512.9,237.4M512.9,237.4 L529.3,242.7M529.3,242.7 L536.3,245.0M478.5,232.1 L484.1,233.9M494.2,237.2 L504.9,240.7M504.9,240.7 L518.2,245.0M479.9,237.9 L494.7,242.7M494.7,242.7 L501.9,245.0M471.9,242.1 L476.8,243.7M476.8,243.7 L480.9,245.0M643.4,187.6 L641.5,193.4M641.5,193.4 L636.3,209.4M632.7,220.5 L630.2,228.4M630.2,228.4 L629.3,231.0M640.8,174.5 L636.7,187.1M636.7,187.1 L634.6,193.5M632.4,200.1 L629.3,209.9M629.3,209.9 L624.2,225.4M624.2,225.4 L620.0,238.3M634.5,173.7 L634.0,175.1M634.0,175.1 L631.7,182.3M628.5,192.0 L626.5,198.2M623.3,208.0 L620.4,217.2M620.4,217.2 L617.3,226.5M617.3,226.5 L614.4,235.4M628.2,172.9 L626.0,179.7M626.0,179.7 L621.7,192.9M621.7,192.9 L619.6,199.6M619.6,199.6 L614.2,216.1M614.2,216.1 L610.0,229.1M605.2,243.7 L604.8,245.0M620.9,172.0 L618.8,178.4M618.8,178.4 L616.4,185.8M616.4,185.8 L613.5,194.7M613.5,194.7 L608.4,210.3M608.4,210.3 L603.3,226.0M603.3,226.0 L599.3,238.3M599.3,238.3 L597.1,245.0M614.5,171.2 L613.8,173.6M613.8,173.6 L609.9,185.6M609.9,185.6 L606.1,197.1M606.1,197.1 L601.0,212.9M601.0,212.9 L597.9,222.5M595.3,230.4 L590.6,245.0M607.5,170.3 L605.8,175.8M605.8,175.8 L602.4,186.2M602.4,186.2 L598.4,198.5M598.4,198.5 L593.9,212.2M593.9,212.2 L589.5,225.8M585.0,239.6 L583.3,245.0M599.9,173.6 L598.5,177.9M598.5,177.9 L593.4,193.6M593.4,193.6 L591.5,199.4M587.1,212.9 L584.4,221.2M584.4,221.2 L579.7,235.5M579.7,235.5 L576.7,245.0M585.9,195.8 L583.3,203.6M579.6,215.2 L576.1,226.0M576.1,226.0 L571.0,241.6M571.0,241.6 L569.9,245.0M583.2,185.3 L582.0,188.8M582.0,188.8 L579.8,195.8M579.8,195.8 L575.5,208.9M575.5,208.9 L571.6,220.8M571.6,220.8 L567.0,235.0M567.0,235.0 L563.8,245.0M572.1,196.4 L566.5,213.3M566.5,213.3 L561.2,229.9M561.2,229.9 L556.3,245.0M565.5,197.6 L563.2,204.9M563.2,204.9 L558.2,220.3M558.2,220.3 L554.0,233.2M554.0,233.2 L550.1,245.0M558.4,197.3 L553.7,212.0M553.7,212.0 L551.4,219.0M551.4,219.0 L547.7,230.3M544.8,239.3 L542.9,245.0M552.1,196.7 L548.5,207.6M545.7,216.3 L540.7,231.7M540.7,231.7 L536.4,245.0M545.7,196.1 L545.2,197.6M545.2,197.6 L540.3,212.8M540.3,212.8 L534.9,229.4M532.3,237.3 L529.8,245.0M534.0,210.8 L531.0,220.0M531.0,220.0 L527.9,229.3M527.9,229.3 L522.9,245.0M529.6,200.8 L527.3,207.9M516.6,240.8 L515.2,245.0M525.7,194.1 L523.5,200.8M523.5,200.8 L521.3,207.6M521.3,207.6 L518.9,215.0M518.9,215.0 L514.6,228.4M514.6,228.4 L511.0,239.5M511.0,239.5 L509.2,245.0M510.9,216.8 L506.5,230.3M506.5,230.3 L503.7,239.0M503.7,239.0 L501.8,245.0M512.5,192.7 L510.4,199.2M510.4,199.2 L507.1,209.2M507.1,209.2 L504.5,217.2M504.5,217.2 L502.0,224.9M502.0,224.9 L499.7,232.1M499.7,232.1 L496.3,242.5M496.3,242.5 L495.5,245.0M505.2,192.0 L502.5,200.4M502.5,200.4 L499.9,208.2M491.7,233.4 L489.3,240.9M492.4,211.1 L490.9,215.8M490.9,215.8 L487.1,227.4M487.1,227.4 L481.8,243.7M479.6,230.4 L478.1,235.3M478.1,235.3 L474.9,245.0" stroke="#fff" stroke-width="0.55" stroke-opacity="0.52" fill="none"/><path d="M639.3,95.0 L643.1,96.5M643.1,96.5 L648.8,98.8M627.2,95.0 L632.8,97.3M632.8,97.3 L647.0,103.0M647.0,103.0 L650.0,104.2M617.9,95.0 L624.9,97.9M624.9,97.9 L631.7,100.6M637.9,103.1 L650.4,108.2M603.5,95.0 L604.3,95.3M616.1,100.1 L622.1,102.5M622.1,102.5 L628.9,105.3M650.3,113.9 L652.3,114.7M600.2,98.7 L606.3,101.2M606.3,101.2 L620.6,107.0M620.6,107.0 L633.1,112.0M633.1,112.0 L640.7,115.1M640.7,115.1 L653.2,120.1M609.2,106.6 L623.0,112.1M623.0,112.1 L635.1,117.0M635.1,117.0 L640.8,119.3M640.8,119.3 L653.5,124.5M653.5,124.5 L654.5,124.9M600.9,108.7 L607.4,111.3M607.4,111.3 L617.8,115.5M617.8,115.5 L623.9,118.0M623.9,118.0 L636.1,122.9M645.4,126.6 L651.1,129.0M651.1,129.0 L655.8,130.9M601.2,113.6 L603.5,114.5M603.5,114.5 L616.9,119.9M616.9,119.9 L631.2,125.7M631.2,125.7 L645.2,131.4M645.2,131.4 L657.0,136.2M601.5,118.0 L602.1,118.2M602.1,118.2 L612.9,122.6M612.9,122.6 L621.6,126.1M621.6,126.1 L634.0,131.1M645.9,135.9 L654.9,139.5M601.8,122.6 L611.0,126.3M611.0,126.3 L616.8,128.7M616.8,128.7 L627.6,133.1M627.6,133.1 L642.3,139.0M642.3,139.0 L652.1,142.9M652.1,142.9 L659.1,145.8M602.2,128.2 L606.6,129.9M606.6,129.9 L612.9,132.5M623.0,136.6 L637.2,142.3M637.2,142.3 L650.7,147.7M650.7,147.7 L659.3,151.2M602.5,133.0 L609.7,135.9M617.8,139.2 L626.0,142.5M626.0,142.5 L636.9,146.9M651.3,152.7 L657.0,155.0M602.9,138.6 L607.2,140.3M621.7,146.2 L631.2,150.0M631.2,150.0 L637.9,152.7M651.7,158.3 L654.4,159.4M603.2,143.4 L607.5,145.1M607.5,145.1 L622.3,151.1M622.3,151.1 L631.2,154.7M644.3,160.0 L652.1,163.1M603.9,152.8 L606.3,153.8M606.3,153.8 L618.1,158.6M624.5,161.2 L637.1,166.3M613.0,161.9 L622.1,165.5M622.1,165.5 L631.7,169.4M631.7,169.4 L637.5,171.8M637.5,171.8 L645.1,174.8M604.6,163.7 L615.3,168.0M615.3,168.0 L622.9,171.0M622.9,171.0 L627.1,172.8M605.0,167.6 L613.5,171.1M658.8,144.6 L658.0,146.6M658.0,146.6 L652.2,161.0M652.2,161.0 L649.8,167.1M656.7,135.0 L654.9,139.6M654.9,139.6 L649.1,153.9M649.1,153.9 L645.0,164.0M645.0,164.0 L642.5,170.3M642.5,170.3 L640.8,174.5M655.0,126.9 L653.5,130.4M653.5,130.4 L648.2,143.5M648.2,143.5 L642.9,156.7M642.9,156.7 L638.8,166.9M638.8,166.9 L636.0,173.9M653.2,118.8 L652.5,120.3M648.0,131.7 L645.5,137.7M645.5,137.7 L642.6,144.8M642.6,144.8 L639.6,152.4M639.6,152.4 L636.8,159.3M636.8,159.3 L632.5,169.8M632.5,169.8 L631.2,173.3M651.3,110.2 L648.3,117.8M643.3,130.2 L639.8,138.7M639.8,138.7 L633.9,153.3M649.1,100.0 L643.7,113.4M643.7,113.4 L640.5,121.3M640.5,121.3 L637.5,128.8M637.5,128.8 L631.7,143.0M628.2,151.8 L623.3,163.8M623.3,163.8 L620.7,170.3M644.0,101.0 L639.6,112.1M639.6,112.1 L634.2,125.4M634.2,125.4 L628.2,140.1M622.5,154.4 L618.8,163.4M618.8,163.4 L615.6,171.3M640.4,95.0 L638.3,100.2M631.9,116.2 L626.9,128.5M626.9,128.5 L624.0,135.8M619.4,147.0 L613.8,160.8M613.8,160.8 L611.5,166.6M611.5,166.6 L609.9,170.6M635.2,95.0 L634.0,98.0M634.0,98.0 L628.2,112.4M628.2,112.4 L625.6,118.8M625.6,118.8 L621.0,130.3M621.0,130.3 L615.2,144.6M615.2,144.6 L611.1,154.6M611.1,154.6 L605.4,168.9M605.4,168.9 L605.0,169.8M629.0,97.3 L623.9,109.8M623.9,109.8 L621.5,115.8M621.5,115.8 L616.8,127.4M616.8,127.4 L612.1,138.9M608.4,148.1 L604.2,158.5M624.5,95.0 L620.4,105.1M620.4,105.1 L615.3,117.6M612.5,124.7 L606.5,139.5M619.7,95.0 L618.8,97.4M618.8,97.4 L614.8,107.2M614.8,107.2 L610.8,117.2M610.8,117.2 L605.8,129.5M605.8,129.5 L602.8,136.9M614.2,95.0 L612.7,98.8M609.2,107.5 L606.7,113.5M606.7,113.5 L602.6,123.9M602.6,123.9 L602.0,125.2M608.8,95.0 L604.7,105.2M603.5,95.0 L600.5,102.5" stroke="#fff" stroke-width="0.55" stroke-opacity="0.52" fill="none"/><path d="M680.9,24.0 L685.0,26.4M667.7,24.0 L670.7,25.8M684.2,33.5 L685.0,34.0M653.7,24.0 L661.8,28.7M661.8,28.7 L676.8,37.4M676.8,37.4 L685.0,42.1M653.3,31.5 L656.4,33.3M672.3,42.5 L683.3,48.9M654.5,38.9 L655.8,39.6M655.8,39.6 L672.5,49.3M672.5,49.3 L681.8,54.7M655.9,47.2 L665.1,52.5M665.1,52.5 L680.0,61.2M680.0,61.2 L685.0,64.1M657.2,55.1 L663.6,58.8M663.6,58.8 L678.8,67.6M678.8,67.6 L685.0,71.2M684.1,79.0 L685.0,79.5M662.8,73.6 L671.0,78.4M671.0,78.4 L678.1,82.5M678.1,82.5 L685.0,86.4M674.2,87.3 L680.7,91.1M669.6,93.1 L677.8,97.9M677.8,97.9 L685.0,102.0M676.0,104.6 L685.0,109.8M672.6,110.0 L681.0,114.8M681.0,114.8 L685.0,117.1M669.8,115.6 L670.3,115.9M670.3,115.9 L678.7,120.7M678.7,120.7 L685.0,124.3M668.9,122.1 L682.4,129.9M682.4,129.9 L685.0,131.4M680.5,136.0 L685.0,138.6M667.0,135.9 L668.7,136.9M677.4,141.9 L685.0,146.3M674.1,148.5 L684.6,154.5M664.7,150.7 L675.0,156.7M662.3,156.8 L671.2,162.0M671.2,162.0 L677.6,165.7M677.6,165.7 L684.9,169.9M660.2,162.0 L665.6,165.2M673.8,169.9 L679.7,173.3M657.7,168.2 L668.5,174.5M680.8,181.6 L685.0,184.0M655.3,174.4 L661.2,177.8M661.2,177.8 L669.6,182.6M682.6,190.2 L685.0,191.5M664.9,187.2 L673.7,192.2M673.7,192.2 L685.0,198.7M650.3,186.8 L650.8,187.1M647.7,193.3 L659.0,199.8M645.8,198.6 L654.5,203.6M643.4,205.1 L656.1,212.5M656.1,212.5 L669.2,220.1M640.9,211.0 L645.7,213.7M645.7,213.7 L655.5,219.4M663.3,223.9 L678.2,232.5M638.4,217.4 L649.4,223.8M649.4,223.8 L661.5,230.7M636.9,224.4 L650.4,232.1M667.1,241.8 L672.7,245.0M634.2,230.6 L642.7,235.6M653.4,241.7 L659.0,245.0M631.6,235.5 L648.1,245.0M629.1,242.0 L630.5,242.8M630.5,242.8 L634.4,245.0M685.0,237.5 L680.7,245.0M685.0,222.3 L679.1,232.5M679.1,232.5 L674.8,240.0M685.0,207.7 L681.3,214.0M672.8,228.7 L663.4,245.0M675.7,209.9 L669.9,219.9M685.0,178.1 L681.6,184.1M678.4,189.6 L672.8,199.3M672.8,199.3 L664.9,213.0M664.9,213.0 L659.6,222.2M655.8,228.8 L646.4,245.0M684.9,163.5 L679.4,173.0M679.4,173.0 L675.2,180.3M664.7,198.6 L658.5,209.3M653.9,217.2 L648.0,227.5M639.8,241.7 L637.9,245.0M680.9,155.7 L672.4,170.4M672.4,170.4 L665.0,183.2M661.6,189.1 L658.5,194.5M644.8,218.2 L635.3,234.7M635.3,234.7 L630.5,242.9M630.5,242.9 L629.3,245.0M685.0,132.3 L682.1,137.2M670.8,156.8 L663.4,169.7M659.0,177.3 L652.3,189.0M652.3,189.0 L647.4,197.3M647.4,197.3 L643.3,204.5M665.4,152.6 L660.8,160.6M685.0,104.5 L684.3,105.6M684.3,105.6 L675.4,121.1M671.5,127.8 L667.0,135.6M685.0,89.2 L680.8,96.6M676.7,103.6 L669.8,115.5M685.0,74.5 L684.2,75.8M684.2,75.8 L680.1,82.9M680.1,82.9 L675.7,90.6M671.9,97.1 L671.3,98.1M685.0,58.5 L679.0,68.8M679.0,68.8 L675.7,74.6M675.7,74.6 L667.9,88.2M678.7,53.6 L672.6,64.1M685.0,28.3 L684.3,29.4M676.6,42.8 L667.2,59.1M667.2,59.1 L662.4,67.4M662.4,67.4 L661.3,69.3M674.9,31.3 L668.6,42.2M660.5,41.9 L656.8,48.3M656.8,48.3 L656.2,49.3M661.4,24.0 L655.2,34.8M655.2,34.8 L654.1,36.6" stroke="#fff" stroke-width="0.55" stroke-opacity="0.56" fill="none"/><path d="M453.5,103.4 L462.9,108.8M462.9,108.8 L470.0,112.9M458.7,113.5 L466.0,117.7M466.0,117.7 L470.0,120.0M435.0,107.0 L440.7,110.3M445.4,113.0 L453.5,117.6M426.5,108.7 L427.0,109.0M427.0,109.0 L435.3,113.8M435.3,113.8 L442.3,117.9M448.4,121.4 L458.1,127.0M458.1,127.0 L466.3,131.7M419.7,111.6 L427.8,116.2M427.8,116.2 L436.9,121.5M436.9,121.5 L446.6,127.1M461.3,135.6 L466.4,138.5M466.4,138.5 L470.0,140.6M418.7,117.6 L426.3,122.0M431.3,124.9 L441.0,130.5M441.0,130.5 L450.6,136.0M450.6,136.0 L460.9,142.0M460.9,142.0 L467.9,146.0M467.9,146.0 L470.0,147.2M418.4,125.0 L426.2,129.6M426.2,129.6 L432.1,133.0M432.1,133.0 L437.1,135.8M443.3,139.4 L447.7,142.0M447.7,142.0 L455.1,146.2M455.1,146.2 L463.6,151.2M463.6,151.2 L464.7,151.8M416.7,129.9 L421.4,132.6M428.2,136.5 L432.9,139.3M432.9,139.3 L442.5,144.8M442.5,144.8 L447.9,147.9M426.2,142.5 L431.7,145.7M445.5,153.7 L450.4,156.5M461.8,149.4 L459.5,153.5M470.0,120.9 L466.4,127.1M466.4,127.1 L460.7,137.1M460.7,137.1 L454.7,147.4M454.7,147.4 L449.4,156.6M467.7,110.5 L462.7,119.2M457.3,128.6 L454.5,133.5M454.5,133.5 L451.6,138.4M446.4,147.4 L441.5,155.9M441.5,155.9 L439.4,159.5M463.0,106.5 L457.9,115.4M457.9,115.4 L453.3,123.2M453.3,123.2 L448.9,130.9M440.5,145.4 L437.7,150.3M456.8,102.6 L453.0,109.3M453.0,109.3 L448.0,118.0M448.0,118.0 L445.4,122.5M434.4,141.5 L428.9,151.1M447.4,104.5 L446.0,106.9M442.7,112.7 L437.9,120.9M437.9,120.9 L433.0,129.5M438.5,106.3 L435.3,111.7M430.0,120.9 L425.3,129.0M425.3,129.0 L421.0,136.6M428.8,108.2 L426.7,111.8M426.7,111.8 L421.9,120.1M417.9,127.1 L416.8,128.9" stroke="#fff" stroke-width="0.5" stroke-opacity="0.52" fill="none"/><path d="M499.0,27.9 L526.0,30.3M430.1,33.5 L443.9,34.7M454.1,35.6 L478.4,37.7M478.4,37.7 L502.2,39.8M517.4,41.1 L526.0,41.9M402.0,42.5 L413.5,43.5M413.5,43.5 L424.8,44.5M424.8,44.5 L439.5,45.8M453.4,47.0 L470.8,48.5M470.8,48.5 L482.6,49.5M482.6,49.5 L512.1,52.1M400.1,53.0 L421.3,54.9M436.8,56.2 L448.2,57.2M515.8,63.1 L526.0,64.0M404.1,64.0 L425.6,65.9M471.6,70.0 L489.0,71.5M489.0,71.5 L519.0,74.1M519.0,74.1 L526.0,74.7M386.0,74.1 L390.7,74.6M401.5,75.5 L433.7,78.3M455.2,80.2 L474.8,81.9M488.2,83.1 L518.1,85.7M389.3,85.2 L420.9,88.0M522.0,29.0 L521.0,40.6M519.7,55.1 L516.9,87.5M505.9,65.5 L503.9,89.0M493.8,62.4 L492.6,75.9M482.4,45.0 L480.9,62.1M480.9,62.1 L478.5,89.0M470.3,26.4 L469.3,37.6M469.3,37.6 L467.5,58.3M467.5,58.3 L465.5,81.3M457.4,26.0 L457.0,30.9M457.0,30.9 L455.6,46.7M455.6,46.7 L454.1,63.0M442.0,58.7 L439.4,89.0M431.0,26.0 L428.6,53.8M427.6,64.5 L425.5,89.0M418.9,26.0 L417.4,43.8M415.7,62.4 L413.6,86.4M405.3,26.0 L404.1,40.7M402.9,53.5 L401.9,64.8M401.9,64.8 L399.8,89.0" stroke="#fff" stroke-width="0.6" stroke-opacity="0.56" fill="none"/><path d="M445.1,101.1 L455.4,103.8M368.0,103.5 L384.5,107.9M384.5,107.9 L398.1,111.6M398.1,111.6 L410.7,115.0M410.7,115.0 L422.4,118.1M422.4,118.1 L442.2,123.4M453.9,126.6 L457.9,127.6M393.7,133.2 L410.5,137.7M410.5,137.7 L420.7,140.4M420.7,140.4 L435.0,144.2M368.0,149.3 L373.7,150.8M373.7,150.8 L394.5,156.4M394.5,156.4 L407.1,159.7M435.5,167.4 L445.5,170.0M369.7,195.1 L383.8,198.9M437.4,213.2 L449.6,216.5M449.6,216.5 L463.5,220.2M368.2,217.9 L392.0,224.3M413.9,230.1 L430.1,234.5M430.1,234.5 L441.4,237.5M441.4,237.5 L466.5,244.2M466.5,244.2 L469.4,245.0M368.0,239.5 L386.5,244.4M469.4,239.0 L467.8,244.9M461.8,165.8 L455.5,189.3M439.2,148.3 L435.9,160.6M435.9,160.6 L432.8,171.9M432.8,171.9 L426.8,194.5M419.0,223.4 L413.9,242.6M420.3,117.5 L416.8,130.6M416.8,130.6 L413.7,141.9M413.7,141.9 L407.5,165.1M407.5,165.1 L402.5,183.8M402.5,183.8 L396.2,207.5M389.9,231.1 L386.1,245.0M399.8,93.7 L398.9,97.1M398.9,97.1 L393.9,115.8M393.9,115.8 L388.4,136.2M373.1,193.5 L368.0,212.4M373.2,91.9 L368.0,111.3" stroke="#fff" stroke-width="0.6" stroke-opacity="0.52" fill="none"/><path d="M367.0,99.0 L420.0,103.0 L470.0,112.0 L530.0,128.0 L600.0,150.0 L640.0,165.0M455.0,26.0 L452.0,60.0 L447.0,100.0 L440.0,160.0 L430.0,245.0M560.0,24.0 L575.0,60.0 L590.0,100.0 L600.0,150.0 L605.0,200.0 L600.0,245.0M367.0,170.0 L420.0,168.0 L470.0,175.0 L520.0,190.0 L560.0,200.0" stroke="#fff" stroke-width="0.8" stroke-opacity="0.6" fill="none"/>
<rect x="386.25" y="26.25" width="140.25" height="63" fill="none" stroke="#9a9a9a" stroke-width="0.7"/>
<line x1="454.5" y1="26.25" x2="454.5" y2="89.25" stroke="#9a9a9a" stroke-width="0.7"/>
<rect x="577.7" y="26.6" width="39.2" height="23.5" fill="#eeeeee" stroke="#9a9a9a" stroke-width="0.7"/>
<line x1="526.5" y1="89.25" x2="577.7" y2="50.1" stroke="#9a9a9a" stroke-width="0.7"/>
<polyline points="643.2,23.3 644.1,29.3 641.9,34.9 640.4,40.4 642.3,47.9 646,55.3 650.6,62.7 654.4,67.4 656.2,74.9 662.7,84.1 663.6,89.7 662.7,93.4 669.2,99.9 669.8,105 668.7,110.6 666.4,115.2 659.9,119.5 663.6,123.6 671.1,128.2 668.3,131.9 667.4,139.4 661.8,147.7 658,153.8 650.8,160.6 645,166 641.5,170.5 638.6,174 637.6,179.7 635.8,185.3 632.1,189 627.4,189 623.7,185.3 620,182.5 616.5,182 614.5,186 613.5,192 612.9,195 613.7,202.7 616.3,205.6 616.8,208.6 614.1,210.7 615.5,212.9 623.1,213.4 624.8,214.6 624.3,218 625.3,228.2 624,231 617.2,232.2 612.9,231.6 612,234.5 613,235.9 615.6,240.2 616.7,245.3" fill="none" stroke="#38bdee" stroke-width="0.95" stroke-linejoin="round"/>
<circle cx="420.5" cy="43.75" r="1.72" fill="#0a6cff"/><circle cx="394.25" cy="52.5" r="1.72" fill="#0a6cff"/><circle cx="402.5" cy="56.25" r="1.72" fill="#0a6cff"/><circle cx="410" cy="53.25" r="1.72" fill="#0a6cff"/><circle cx="420" cy="51.25" r="1.72" fill="#0a6cff"/><circle cx="422" cy="57" r="1.72" fill="#0a6cff"/><circle cx="393" cy="59.5" r="1.72" fill="#0a6cff"/><circle cx="394.5" cy="65" r="1.72" fill="#0a6cff"/><circle cx="393.75" cy="69.25" r="1.72" fill="#0a6cff"/><circle cx="404.5" cy="67" r="1.72" fill="#0a6cff"/><circle cx="413" cy="64.5" r="1.72" fill="#0a6cff"/><circle cx="416.25" cy="67" r="1.72" fill="#0a6cff"/><circle cx="411.75" cy="70.5" r="1.72" fill="#0a6cff"/><circle cx="421.25" cy="66.5" r="1.72" fill="#0a6cff"/><circle cx="438.75" cy="36.25" r="1.72" fill="#0a6cff"/><circle cx="438.25" cy="42.5" r="1.72" fill="#0a6cff"/><circle cx="438.75" cy="49.25" r="1.72" fill="#0a6cff"/><circle cx="440" cy="48.75" r="1.72" fill="#0a6cff"/><circle cx="438" cy="58" r="1.72" fill="#0a6cff"/><circle cx="441.25" cy="56.25" r="1.72" fill="#0a6cff"/><circle cx="437.5" cy="65" r="1.72" fill="#0a6cff"/><circle cx="442" cy="65" r="1.72" fill="#0a6cff"/><circle cx="438" cy="71.75" r="1.72" fill="#0a6cff"/><circle cx="442.5" cy="71.75" r="1.72" fill="#0a6cff"/><circle cx="458.75" cy="79.25" r="1.72" fill="#0a6cff"/><circle cx="665.1" cy="96.2" r="1.72" fill="#0a6cff"/><circle cx="612.9" cy="109.8" r="1.72" fill="#0a6cff"/><circle cx="641.9" cy="113.5" r="1.72" fill="#0a6cff"/><circle cx="385.75" cy="109" r="1.72" fill="#0a6cff"/><circle cx="417.5" cy="118.5" r="1.72" fill="#0a6cff"/><circle cx="447.5" cy="137.75" r="1.72" fill="#0a6cff"/><circle cx="438.25" cy="149" r="1.72" fill="#0a6cff"/><circle cx="497" cy="111.25" r="1.72" fill="#0a6cff"/><circle cx="500.6" cy="146" r="1.72" fill="#0a6cff"/><circle cx="498.2" cy="146.2" r="1.72" fill="#0a6cff"/><circle cx="539.5" cy="143.25" r="1.72" fill="#0a6cff"/><circle cx="554.3" cy="144.8" r="1.72" fill="#0a6cff"/><circle cx="516.2" cy="163.7" r="1.72" fill="#0a6cff"/><circle cx="549.4" cy="165.3" r="1.72" fill="#0a6cff"/><circle cx="558.3" cy="166.7" r="1.72" fill="#0a6cff"/><circle cx="592" cy="127.3" r="1.72" fill="#0a6cff"/><circle cx="609.1" cy="135.6" r="1.72" fill="#0a6cff"/><circle cx="601.4" cy="142.5" r="1.72" fill="#0a6cff"/><circle cx="589.8" cy="150.7" r="1.72" fill="#0a6cff"/><circle cx="585.6" cy="163.5" r="1.72" fill="#0a6cff"/><circle cx="571" cy="182.2" r="1.72" fill="#0a6cff"/><circle cx="572.4" cy="186.4" r="1.72" fill="#0a6cff"/><circle cx="573.2" cy="189" r="1.72" fill="#0a6cff"/><circle cx="591.1" cy="179.6" r="1.72" fill="#0a6cff"/><circle cx="590.8" cy="183" r="1.72" fill="#0a6cff"/><circle cx="593.7" cy="185.6" r="1.72" fill="#0a6cff"/><circle cx="594.2" cy="187.3" r="1.72" fill="#0a6cff"/><circle cx="556.7" cy="197.2" r="1.72" fill="#0a6cff"/><circle cx="558.4" cy="200" r="1.72" fill="#0a6cff"/><circle cx="570.7" cy="195.5" r="1.72" fill="#0a6cff"/><circle cx="580.9" cy="198.9" r="1.72" fill="#0a6cff"/><circle cx="597.1" cy="194.9" r="1.72" fill="#0a6cff"/><circle cx="595.4" cy="203.5" r="1.72" fill="#0a6cff"/><circle cx="580.9" cy="203.5" r="1.72" fill="#0a6cff"/><circle cx="586.4" cy="163.2" r="1.72" fill="#0a6cff"/><circle cx="629.7" cy="161.5" r="1.72" fill="#0a6cff"/><circle cx="639.5" cy="163.2" r="1.72" fill="#0a6cff"/><circle cx="613.6" cy="168.1" r="1.72" fill="#0a6cff"/><circle cx="627.6" cy="172.9" r="1.72" fill="#0a6cff"/><circle cx="591.5" cy="179.7" r="1.72" fill="#0a6cff"/><circle cx="592.7" cy="183.1" r="1.72" fill="#0a6cff"/><circle cx="593.9" cy="186.5" r="1.72" fill="#0a6cff"/><circle cx="616.5" cy="180.6" r="1.72" fill="#0a6cff"/><circle cx="621.1" cy="182.3" r="1.72" fill="#0a6cff"/><circle cx="602" cy="191.1" r="1.72" fill="#0a6cff"/><circle cx="610.2" cy="190.5" r="1.72" fill="#0a6cff"/><circle cx="596.9" cy="195.4" r="1.72" fill="#0a6cff"/><circle cx="605.5" cy="193.4" r="1.72" fill="#0a6cff"/><circle cx="585.9" cy="173.7" r="1.72" fill="#0a6cff"/><circle cx="637.1" cy="153.7" r="1.72" fill="#0a6cff"/><circle cx="641.9" cy="150.8" r="1.72" fill="#0a6cff"/><circle cx="649.4" cy="155.4" r="1.72" fill="#0a6cff"/><circle cx="627.4" cy="173.2" r="1.72" fill="#0a6cff"/><circle cx="620.9" cy="182.5" r="1.72" fill="#0a6cff"/><circle cx="639.8" cy="147" r="1.72" fill="#0a6cff"/><circle cx="652.9" cy="146.5" r="1.72" fill="#0a6cff"/><circle cx="636.9" cy="153.8" r="1.72" fill="#0a6cff"/><circle cx="558.3" cy="200.9" r="1.72" fill="#0a6cff"/><circle cx="557.8" cy="209.4" r="1.72" fill="#0a6cff"/><circle cx="557.3" cy="211.1" r="1.72" fill="#0a6cff"/><circle cx="576.5" cy="202.6" r="1.72" fill="#0a6cff"/><circle cx="576.5" cy="205.1" r="1.72" fill="#0a6cff"/><circle cx="580.8" cy="203.7" r="1.72" fill="#0a6cff"/><circle cx="574.3" cy="208.5" r="1.72" fill="#0a6cff"/><circle cx="583.3" cy="208.2" r="1.72" fill="#0a6cff"/><circle cx="586.2" cy="208.2" r="1.72" fill="#0a6cff"/><circle cx="585.6" cy="211.6" r="1.72" fill="#0a6cff"/><circle cx="580.8" cy="215.3" r="1.72" fill="#0a6cff"/><circle cx="594.8" cy="203.1" r="1.72" fill="#0a6cff"/><circle cx="596.5" cy="209.9" r="1.72" fill="#0a6cff"/><circle cx="593.6" cy="218.4" r="1.72" fill="#0a6cff"/><circle cx="595.8" cy="221.3" r="1.72" fill="#0a6cff"/><circle cx="603" cy="212.8" r="1.72" fill="#0a6cff"/><circle cx="603" cy="222.2" r="1.72" fill="#0a6cff"/><circle cx="587.3" cy="228.1" r="1.72" fill="#0a6cff"/><circle cx="565.1" cy="240.4" r="1.72" fill="#0a6cff"/><circle cx="595.9" cy="202.7" r="1.72" fill="#0a6cff"/><circle cx="601.5" cy="201.5" r="1.72" fill="#0a6cff"/><circle cx="612" cy="202.7" r="1.72" fill="#0a6cff"/><circle cx="603.2" cy="212" r="1.72" fill="#0a6cff"/><circle cx="604.4" cy="213.7" r="1.72" fill="#0a6cff"/><circle cx="611.2" cy="211.2" r="1.72" fill="#0a6cff"/><circle cx="614.6" cy="212.9" r="1.72" fill="#0a6cff"/><circle cx="613.4" cy="218.9" r="1.72" fill="#0a6cff"/><circle cx="603.2" cy="221.9" r="1.72" fill="#0a6cff"/><circle cx="595.9" cy="220.9" r="1.72" fill="#0a6cff"/><circle cx="623.1" cy="228.7" r="1.72" fill="#0a6cff"/><circle cx="619.7" cy="240" r="1.72" fill="#0a6cff"/><circle cx="616.7" cy="243.1" r="1.72" fill="#0a6cff"/><circle cx="619.5" cy="241" r="1.72" fill="#0a6cff"/><circle cx="620.9" cy="239.6" r="1.72" fill="#0a6cff"/><circle cx="524.3" cy="185.5" r="1.72" fill="#0a6cff"/><circle cx="536.2" cy="187.7" r="1.72" fill="#0a6cff"/><circle cx="503" cy="197.4" r="1.72" fill="#0a6cff"/><circle cx="522.6" cy="197.7" r="1.72" fill="#0a6cff"/><circle cx="476.5" cy="206" r="1.72" fill="#0a6cff"/><circle cx="503" cy="198.2" r="1.72" fill="#0a6cff"/><circle cx="522.5" cy="198.2" r="1.72" fill="#0a6cff"/><circle cx="609.6" cy="28.8" r="1.72" fill="#0a6cff"/><circle cx="610.8" cy="31.5" r="1.72" fill="#0a6cff"/><circle cx="610.6" cy="35.5" r="1.72" fill="#0a6cff"/><circle cx="611.2" cy="38.5" r="1.72" fill="#0a6cff"/><circle cx="611.5" cy="41.2" r="1.72" fill="#0a6cff"/>
<circle cx="465" cy="48.75" r="1.72" fill="#f0131b"/><circle cx="474.5" cy="52" r="1.72" fill="#f0131b"/><circle cx="482.5" cy="49.25" r="1.72" fill="#f0131b"/><circle cx="485.5" cy="46" r="1.72" fill="#f0131b"/><circle cx="493" cy="47" r="1.72" fill="#f0131b"/><circle cx="495" cy="44.5" r="1.72" fill="#f0131b"/><circle cx="495" cy="53" r="1.72" fill="#f0131b"/><circle cx="464.25" cy="55.75" r="1.72" fill="#f0131b"/><circle cx="465.75" cy="61.25" r="1.72" fill="#f0131b"/><circle cx="465" cy="65.75" r="1.72" fill="#f0131b"/><circle cx="476.25" cy="63.75" r="1.72" fill="#f0131b"/><circle cx="485.5" cy="60.5" r="1.72" fill="#f0131b"/><circle cx="482.5" cy="67.5" r="1.72" fill="#f0131b"/><circle cx="484.5" cy="67" r="1.72" fill="#f0131b"/><circle cx="494" cy="63.25" r="1.72" fill="#f0131b"/><circle cx="493.25" cy="39" r="1.72" fill="#f0131b"/><circle cx="503.75" cy="39" r="1.72" fill="#f0131b"/><circle cx="512" cy="38" r="1.72" fill="#f0131b"/><circle cx="515" cy="52" r="1.72" fill="#f0131b"/><circle cx="511.5" cy="53.75" r="1.72" fill="#f0131b"/><circle cx="515.75" cy="61.25" r="1.72" fill="#f0131b"/><circle cx="512" cy="68" r="1.72" fill="#f0131b"/><circle cx="511.25" cy="69.25" r="1.72" fill="#f0131b"/><circle cx="530.5" cy="37" r="1.72" fill="#f0131b"/><circle cx="625.5" cy="40.9" r="1.72" fill="#f0131b"/><circle cx="608.9" cy="66.6" r="1.72" fill="#f0131b"/><circle cx="642.8" cy="33.6" r="1.72" fill="#f0131b"/><circle cx="631.7" cy="42.7" r="1.72" fill="#f0131b"/><circle cx="663.6" cy="111.5" r="1.72" fill="#f0131b"/><circle cx="563" cy="184.7" r="1.72" fill="#f0131b"/><circle cx="577.8" cy="183.4" r="1.72" fill="#f0131b"/><circle cx="586.9" cy="177.9" r="1.72" fill="#f0131b"/><circle cx="598" cy="177.9" r="1.72" fill="#f0131b"/><circle cx="572.4" cy="195.8" r="1.72" fill="#f0131b"/><circle cx="642.6" cy="162.2" r="1.72" fill="#f0131b"/><circle cx="625.9" cy="174.1" r="1.72" fill="#f0131b"/><circle cx="618.7" cy="176.6" r="1.72" fill="#f0131b"/><circle cx="630.7" cy="178" r="1.72" fill="#f0131b"/><circle cx="633.6" cy="177.7" r="1.72" fill="#f0131b"/><circle cx="598.3" cy="178.5" r="1.72" fill="#f0131b"/><circle cx="587" cy="178" r="1.72" fill="#f0131b"/><circle cx="624.5" cy="183.1" r="1.72" fill="#f0131b"/><circle cx="620" cy="185.3" r="1.72" fill="#f0131b"/><circle cx="616" cy="183.1" r="1.72" fill="#f0131b"/><circle cx="632.4" cy="186.5" r="1.72" fill="#f0131b"/><circle cx="629.7" cy="191.3" r="1.72" fill="#f0131b"/><circle cx="604.6" cy="193.9" r="1.72" fill="#f0131b"/><circle cx="608" cy="192.8" r="1.72" fill="#f0131b"/><circle cx="608.9" cy="199.3" r="1.72" fill="#f0131b"/><circle cx="649.3" cy="152.6" r="1.72" fill="#f0131b"/><circle cx="642.3" cy="162.4" r="1.72" fill="#f0131b"/><circle cx="578.2" cy="208.2" r="1.72" fill="#f0131b"/><circle cx="594.4" cy="206" r="1.72" fill="#f0131b"/><circle cx="600.9" cy="203.7" r="1.72" fill="#f0131b"/><circle cx="607.8" cy="197.6" r="1.72" fill="#f0131b"/><circle cx="610" cy="200.1" r="1.72" fill="#f0131b"/><circle cx="611.2" cy="201.5" r="1.72" fill="#f0131b"/><circle cx="601" cy="203.5" r="1.72" fill="#f0131b"/><circle cx="607.3" cy="206.6" r="1.72" fill="#f0131b"/><circle cx="609" cy="209.5" r="1.72" fill="#f0131b"/><circle cx="617.2" cy="216.8" r="1.72" fill="#f0131b"/><circle cx="618" cy="218" r="1.72" fill="#f0131b"/><circle cx="621.4" cy="223.6" r="1.72" fill="#f0131b"/><circle cx="624.3" cy="226" r="1.72" fill="#f0131b"/><circle cx="609.5" cy="236" r="1.72" fill="#f0131b"/><circle cx="629.3" cy="235.6" r="1.72" fill="#f0131b"/><circle cx="618.1" cy="242.4" r="1.72" fill="#f0131b"/><circle cx="621" cy="242.4" r="1.72" fill="#f0131b"/><circle cx="622.4" cy="244.5" r="1.72" fill="#f0131b"/><circle cx="620" cy="244" r="1.72" fill="#f0131b"/><circle cx="620.9" cy="242.4" r="1.72" fill="#f0131b"/><circle cx="527.7" cy="196.7" r="1.72" fill="#f0131b"/>
<circle cx="599" cy="31" r="1.5" fill="#f0131b"/><circle cx="601.5" cy="31.2" r="1.5" fill="#f0131b"/><circle cx="604" cy="31" r="1.5" fill="#f0131b"/><circle cx="606.5" cy="30.8" r="1.5" fill="#f0131b"/><circle cx="608.5" cy="31.5" r="1.5" fill="#f0131b"/><circle cx="596.5" cy="32.5" r="1.5" fill="#f0131b"/><circle cx="594.5" cy="34" r="1.5" fill="#f0131b"/><circle cx="597" cy="34.5" r="1.5" fill="#f0131b"/><circle cx="599.5" cy="34.8" r="1.5" fill="#f0131b"/><circle cx="602" cy="34.5" r="1.5" fill="#f0131b"/><circle cx="604.5" cy="34" r="1.5" fill="#f0131b"/><circle cx="607" cy="33.8" r="1.5" fill="#f0131b"/><circle cx="609" cy="34.5" r="1.5" fill="#f0131b"/><circle cx="594" cy="36.8" r="1.5" fill="#f0131b"/><circle cx="596.5" cy="37.2" r="1.5" fill="#f0131b"/><circle cx="599" cy="37.5" r="1.5" fill="#f0131b"/><circle cx="601.5" cy="37.2" r="1.5" fill="#f0131b"/><circle cx="604" cy="37" r="1.5" fill="#f0131b"/><circle cx="606.5" cy="36.8" r="1.5" fill="#f0131b"/><circle cx="609.5" cy="37.5" r="1.5" fill="#f0131b"/><circle cx="594.5" cy="39.5" r="1.5" fill="#f0131b"/><circle cx="597" cy="40" r="1.5" fill="#f0131b"/><circle cx="599.5" cy="40" r="1.5" fill="#f0131b"/><circle cx="602" cy="39.8" r="1.5" fill="#f0131b"/><circle cx="604.5" cy="39.5" r="1.5" fill="#f0131b"/><circle cx="607" cy="40" r="1.5" fill="#f0131b"/><circle cx="609.5" cy="40.5" r="1.5" fill="#f0131b"/><circle cx="610" cy="42" r="1.5" fill="#f0131b"/>
<circle cx="393" cy="78.75" r="1.3" fill="#0a0a0a"/><circle cx="392.5" cy="83" r="1.3" fill="#0a0a0a"/><circle cx="403.25" cy="81.25" r="1.3" fill="#0a0a0a"/><circle cx="412" cy="78.25" r="1.3" fill="#0a0a0a"/><circle cx="410.75" cy="83.75" r="1.3" fill="#0a0a0a"/><circle cx="464.5" cy="75.75" r="1.3" fill="#0a0a0a"/><circle cx="463.75" cy="80.5" r="1.3" fill="#0a0a0a"/><circle cx="475" cy="78.75" r="1.3" fill="#0a0a0a"/><circle cx="483.75" cy="75.5" r="1.3" fill="#0a0a0a"/><circle cx="482.5" cy="81.75" r="1.3" fill="#0a0a0a"/><circle cx="631.1" cy="47.3" r="1.3" fill="#0a0a0a"/><circle cx="612.4" cy="114.6" r="1.3" fill="#0a0a0a"/><circle cx="641.4" cy="118.4" r="1.3" fill="#0a0a0a"/><circle cx="416.5" cy="118" r="1.3" fill="#0a0a0a"/><circle cx="448" cy="140.5" r="1.3" fill="#0a0a0a"/><circle cx="538.3" cy="146.8" r="1.3" fill="#0a0a0a"/><circle cx="554" cy="147.5" r="1.3" fill="#0a0a0a"/><circle cx="516.7" cy="167.3" r="1.3" fill="#0a0a0a"/><circle cx="547.7" cy="168" r="1.3" fill="#0a0a0a"/><circle cx="557.1" cy="169" r="1.3" fill="#0a0a0a"/><circle cx="591.5" cy="132.3" r="1.3" fill="#0a0a0a"/><circle cx="600.8" cy="146.9" r="1.3" fill="#0a0a0a"/><circle cx="589.3" cy="155.5" r="1.3" fill="#0a0a0a"/><circle cx="556.7" cy="169.4" r="1.3" fill="#0a0a0a"/><circle cx="584.3" cy="167.2" r="1.3" fill="#0a0a0a"/><circle cx="585.2" cy="168.2" r="1.3" fill="#0a0a0a"/><circle cx="560.1" cy="184.7" r="1.3" fill="#0a0a0a"/><circle cx="566.4" cy="182.2" r="1.3" fill="#0a0a0a"/><circle cx="569.3" cy="186.9" r="1.3" fill="#0a0a0a"/><circle cx="570.3" cy="191" r="1.3" fill="#0a0a0a"/><circle cx="586" cy="182.2" r="1.3" fill="#0a0a0a"/><circle cx="590.3" cy="187.6" r="1.3" fill="#0a0a0a"/><circle cx="593.2" cy="191.5" r="1.3" fill="#0a0a0a"/><circle cx="594.2" cy="189.8" r="1.3" fill="#0a0a0a"/><circle cx="577.2" cy="195.5" r="1.3" fill="#0a0a0a"/><circle cx="568.1" cy="198.9" r="1.3" fill="#0a0a0a"/><circle cx="573.2" cy="197.8" r="1.3" fill="#0a0a0a"/><circle cx="554.5" cy="200" r="1.3" fill="#0a0a0a"/><circle cx="576.6" cy="199.5" r="1.3" fill="#0a0a0a"/><circle cx="585.2" cy="203.5" r="1.3" fill="#0a0a0a"/><circle cx="597.1" cy="200" r="1.3" fill="#0a0a0a"/><circle cx="585.9" cy="167.8" r="1.3" fill="#0a0a0a"/><circle cx="637" cy="158.4" r="1.3" fill="#0a0a0a"/><circle cx="639.5" cy="167.8" r="1.3" fill="#0a0a0a"/><circle cx="613.1" cy="172.6" r="1.3" fill="#0a0a0a"/><circle cx="586.7" cy="182.3" r="1.3" fill="#0a0a0a"/><circle cx="597.8" cy="183.1" r="1.3" fill="#0a0a0a"/><circle cx="625.9" cy="177.5" r="1.3" fill="#0a0a0a"/><circle cx="617.7" cy="181.4" r="1.3" fill="#0a0a0a"/><circle cx="615.3" cy="185.7" r="1.3" fill="#0a0a0a"/><circle cx="615.7" cy="188.2" r="1.3" fill="#0a0a0a"/><circle cx="623.4" cy="185.7" r="1.3" fill="#0a0a0a"/><circle cx="629.7" cy="182.8" r="1.3" fill="#0a0a0a"/><circle cx="632.7" cy="182.3" r="1.3" fill="#0a0a0a"/><circle cx="619.4" cy="190.3" r="1.3" fill="#0a0a0a"/><circle cx="593.2" cy="189.9" r="1.3" fill="#0a0a0a"/><circle cx="593.2" cy="192.2" r="1.3" fill="#0a0a0a"/><circle cx="600.3" cy="192.8" r="1.3" fill="#0a0a0a"/><circle cx="608.9" cy="195.9" r="1.3" fill="#0a0a0a"/><circle cx="609.7" cy="198.5" r="1.3" fill="#0a0a0a"/><circle cx="602" cy="196.8" r="1.3" fill="#0a0a0a"/><circle cx="629.3" cy="195.6" r="1.3" fill="#0a0a0a"/><circle cx="590.1" cy="187.4" r="1.3" fill="#0a0a0a"/><circle cx="641.4" cy="155.6" r="1.3" fill="#0a0a0a"/><circle cx="626.5" cy="178.8" r="1.3" fill="#0a0a0a"/><circle cx="630.2" cy="183" r="1.3" fill="#0a0a0a"/><circle cx="623.3" cy="186.2" r="1.3" fill="#0a0a0a"/><circle cx="631.1" cy="190.9" r="1.3" fill="#0a0a0a"/><circle cx="628.9" cy="195.5" r="1.3" fill="#0a0a0a"/><circle cx="629.2" cy="149.2" r="1.3" fill="#0a0a0a"/><circle cx="638.9" cy="151.4" r="1.3" fill="#0a0a0a"/><circle cx="639.4" cy="151.6" r="1.3" fill="#0a0a0a"/><circle cx="641.5" cy="155.5" r="1.3" fill="#0a0a0a"/><circle cx="636.4" cy="158.4" r="1.3" fill="#0a0a0a"/><circle cx="557.3" cy="214.5" r="1.3" fill="#0a0a0a"/><circle cx="571.4" cy="206" r="1.3" fill="#0a0a0a"/><circle cx="575.7" cy="212.8" r="1.3" fill="#0a0a0a"/><circle cx="580" cy="215.3" r="1.3" fill="#0a0a0a"/><circle cx="585.1" cy="215.7" r="1.3" fill="#0a0a0a"/><circle cx="585.1" cy="204.3" r="1.3" fill="#0a0a0a"/><circle cx="592.7" cy="211.1" r="1.3" fill="#0a0a0a"/><circle cx="594.8" cy="209.4" r="1.3" fill="#0a0a0a"/><circle cx="596.1" cy="214.5" r="1.3" fill="#0a0a0a"/><circle cx="600.4" cy="207.7" r="1.3" fill="#0a0a0a"/><circle cx="603" cy="217" r="1.3" fill="#0a0a0a"/><circle cx="603.8" cy="218.4" r="1.3" fill="#0a0a0a"/><circle cx="593.1" cy="222.2" r="1.3" fill="#0a0a0a"/><circle cx="595.3" cy="225.9" r="1.3" fill="#0a0a0a"/><circle cx="602.6" cy="226.4" r="1.3" fill="#0a0a0a"/><circle cx="586.8" cy="232.7" r="1.3" fill="#0a0a0a"/><circle cx="565.6" cy="243.8" r="1.3" fill="#0a0a0a"/><circle cx="599.3" cy="197.6" r="1.3" fill="#0a0a0a"/><circle cx="603.5" cy="198.4" r="1.3" fill="#0a0a0a"/><circle cx="606.9" cy="197" r="1.3" fill="#0a0a0a"/><circle cx="607.3" cy="203.5" r="1.3" fill="#0a0a0a"/><circle cx="606.9" cy="206.1" r="1.3" fill="#0a0a0a"/><circle cx="610.7" cy="205.6" r="1.3" fill="#0a0a0a"/><circle cx="611.7" cy="207.8" r="1.3" fill="#0a0a0a"/><circle cx="600.1" cy="207.8" r="1.3" fill="#0a0a0a"/><circle cx="599.8" cy="205.2" r="1.3" fill="#0a0a0a"/><circle cx="606.1" cy="211.2" r="1.3" fill="#0a0a0a"/><circle cx="602.7" cy="216.8" r="1.3" fill="#0a0a0a"/><circle cx="604.4" cy="218" r="1.3" fill="#0a0a0a"/><circle cx="607.8" cy="218.9" r="1.3" fill="#0a0a0a"/><circle cx="611.2" cy="221.9" r="1.3" fill="#0a0a0a"/><circle cx="615.1" cy="224" r="1.3" fill="#0a0a0a"/><circle cx="617.2" cy="222.3" r="1.3" fill="#0a0a0a"/><circle cx="602.2" cy="226.5" r="1.3" fill="#0a0a0a"/><circle cx="595.9" cy="226.5" r="1.3" fill="#0a0a0a"/><circle cx="620.6" cy="230.8" r="1.3" fill="#0a0a0a"/><circle cx="621.4" cy="233.4" r="1.3" fill="#0a0a0a"/><circle cx="622.3" cy="231.6" r="1.3" fill="#0a0a0a"/><circle cx="629.1" cy="195.9" r="1.3" fill="#0a0a0a"/><circle cx="628.9" cy="240.2" r="1.3" fill="#0a0a0a"/><circle cx="621.7" cy="232.3" r="1.3" fill="#0a0a0a"/><circle cx="622.9" cy="233.7" r="1.3" fill="#0a0a0a"/><circle cx="621" cy="233.7" r="1.3" fill="#0a0a0a"/><circle cx="526.9" cy="189.4" r="1.3" fill="#0a0a0a"/><circle cx="537.6" cy="190.9" r="1.3" fill="#0a0a0a"/><circle cx="523.1" cy="201.3" r="1.3" fill="#0a0a0a"/><circle cx="516.8" cy="167.6" r="1.3" fill="#0a0a0a"/><circle cx="554.3" cy="199.9" r="1.3" fill="#0a0a0a"/><circle cx="593.6" cy="44.8" r="1.3" fill="#0a0a0a"/><circle cx="594.8" cy="43.4" r="1.3" fill="#0a0a0a"/><circle cx="596.8" cy="44.2" r="1.3" fill="#0a0a0a"/><circle cx="598.8" cy="43.2" r="1.3" fill="#0a0a0a"/><circle cx="600.3" cy="44.2" r="1.3" fill="#0a0a0a"/><circle cx="601" cy="45.2" r="1.3" fill="#0a0a0a"/>
<rect x="397.1" y="41.85" width="4.8" height="4.8" fill="#1c1cf5"/><path d="M398.45,42.75 V45.75 M400.55,42.75 V45.75" stroke="#fff" stroke-width="0.55"/>
<rect x="468.85" y="36.85" width="4.8" height="4.8" fill="#1c1cf5"/><path d="M470.2,37.75 V40.75 M472.3,37.75 V40.75" stroke="#fff" stroke-width="0.55"/>
<rect x="595.4" y="148.6" width="4.8" height="4.8" fill="#1c1cf5"/><path d="M596.75,149.5 V152.5 M598.8499999999999,149.5 V152.5" stroke="#fff" stroke-width="0.55"/>
<rect x="595.4" y="153.9" width="4.8" height="4.8" fill="#1c1cf5"/><path d="M596.75,154.8 V157.8 M598.8499999999999,154.8 V157.8" stroke="#fff" stroke-width="0.55"/>
<rect x="594.9" y="154.0" width="4.8" height="4.8" fill="#1c1cf5"/><path d="M596.25,154.9 V157.9 M598.3499999999999,154.9 V157.9" stroke="#fff" stroke-width="0.55"/>
<rect x="638.8000000000001" y="167.9" width="4.8" height="4.8" fill="#1c1cf5"/><path d="M640.1500000000001,168.8 V171.8 M642.25,168.8 V171.8" stroke="#fff" stroke-width="0.55"/>
<rect x="586.9" y="196.1" width="4.8" height="4.8" fill="#1c1cf5"/><path d="M588.25,197.0 V200.0 M590.3499999999999,197.0 V200.0" stroke="#fff" stroke-width="0.55"/>
<rect x="581.4" y="170.7" width="4.8" height="4.8" fill="#1c1cf5"/><path d="M582.75,171.6 V174.6 M584.8499999999999,171.6 V174.6" stroke="#fff" stroke-width="0.55"/>
<rect x="587.3000000000001" y="198.5" width="4.8" height="4.8" fill="#1c1cf5"/><path d="M588.6500000000001,199.4 V202.4 M590.75,199.4 V202.4" stroke="#fff" stroke-width="0.55"/>
<rect x="645.0" y="160.4" width="4.8" height="4.8" fill="#1c1cf5"/><path d="M646.35,161.3 V164.3 M648.4499999999999,161.3 V164.3" stroke="#fff" stroke-width="0.55"/>
<rect x="639.0" y="167.1" width="4.8" height="4.8" fill="#1c1cf5"/><path d="M640.35,168.0 V171.0 M642.4499999999999,168.0 V171.0" stroke="#fff" stroke-width="0.55"/>
<rect x="594.9" y="29.5" width="3.8" height="3.8" fill="#1c1cf5"/><path d="M595.75,29.9 V32.9 M597.8499999999999,29.9 V32.9" stroke="#fff" stroke-width="0.55"/>
<rect x="599.0" y="24.8" width="4.2" height="2.6" fill="#1c1cf5"/><rect x="601.2" y="25.6" width="1" height="1" fill="#fff"/>
<rect x="583.5" y="52.9" width="10.2" height="7" fill="#fff" stroke="#222" stroke-width="0.7"/>
<path d="M585.5,55.6 L588.6,54.2 L591.7,55.6 L588.6,57Z M586.9,56.4 V58 H590.3 V56.4" fill="#111" stroke="#111" stroke-width="0.5"/>
<text x="588.2" y="68.3" font-size="6.4" text-anchor="middle" fill="#1e1e1e" font-weight="normal" textLength="27.60" lengthAdjust="spacingAndGlyphs" stroke="#1e1e1e" stroke-width="0.04">Dire Dawa</text>
<text x="588.2" y="75.4" font-size="6.4" text-anchor="middle" fill="#1e1e1e" font-weight="normal" textLength="26.70" lengthAdjust="spacingAndGlyphs" stroke="#1e1e1e" stroke-width="0.04">University</text>
<path d="M676.8,69.2 H686" stroke="#1a82a6" stroke-width="1.7" stroke-linecap="round"/>
<path d="M680.4,65.2 L681.7,65.2 L683.2,69.2 L681.7,73.3 L680.4,73.3 L681.2,69.2Z" fill="#1a82a6"/>
<path d="M677,67.8 L677.8,67.8 L678.4,69.2 L677.8,70.6 L677,70.6Z" fill="#1a82a6"/>
<line x1="678.7" y1="25.3" x2="678.7" y2="40.5" stroke="#333" stroke-width="0.6"/>
<path d="M678.7,25.3 L680.2,30.5 L678.7,29.8Z" fill="#333"/>
<path d="M677.6,36 L679.8,36.5 L679.8,40 L678.7,40.6 L677.6,40Z" fill="#444"/>
</g>
<rect x="367.5" y="23.6" width="316.8" height="221.7" fill="none" stroke="#ababab" stroke-width="1"/>
<line x1="362.5" y1="70" x2="367.75" y2="70" stroke="#909090" stroke-width="0.8"/>
<line x1="362.5" y1="121.25" x2="367.75" y2="121.25" stroke="#909090" stroke-width="0.8"/>
<line x1="362.5" y1="173" x2="367.75" y2="173" stroke="#909090" stroke-width="0.8"/>
<line x1="362.5" y1="224.25" x2="367.75" y2="224.25" stroke="#909090" stroke-width="0.8"/>
<line x1="391.6" y1="245.3" x2="391.6" y2="250.8" stroke="#909090" stroke-width="0.8"/>
<line x1="442.65" y1="245.3" x2="442.65" y2="250.8" stroke="#909090" stroke-width="0.8"/>
<line x1="493.7" y1="245.3" x2="493.7" y2="250.8" stroke="#909090" stroke-width="0.8"/>
<line x1="544.75" y1="245.3" x2="544.75" y2="250.8" stroke="#909090" stroke-width="0.8"/>
<line x1="595.8" y1="245.3" x2="595.8" y2="250.8" stroke="#909090" stroke-width="0.8"/>
<line x1="646.85" y1="245.3" x2="646.85" y2="250.8" stroke="#909090" stroke-width="0.8"/>
<text x="0" y="0" font-size="7.2" text-anchor="middle" fill="#1e1e1e" font-weight="normal" transform="translate(358.3,70) rotate(-90)" textLength="25.50" lengthAdjust="spacingAndGlyphs" stroke="#1e1e1e" stroke-width="0.07">9° 37' N</text>
<text x="0" y="0" font-size="7.2" text-anchor="middle" fill="#1e1e1e" font-weight="normal" transform="translate(358.3,121.25) rotate(-90)" textLength="25.50" lengthAdjust="spacingAndGlyphs" stroke="#1e1e1e" stroke-width="0.07">9° 36' N</text>
<text x="0" y="0" font-size="7.2" text-anchor="middle" fill="#1e1e1e" font-weight="normal" transform="translate(358.3,173) rotate(-90)" textLength="25.50" lengthAdjust="spacingAndGlyphs" stroke="#1e1e1e" stroke-width="0.07">9° 36' N</text>
<text x="0" y="0" font-size="7.2" text-anchor="middle" fill="#1e1e1e" font-weight="normal" transform="translate(358.3,224.25) rotate(-90)" textLength="25.50" lengthAdjust="spacingAndGlyphs" stroke="#1e1e1e" stroke-width="0.07">9° 36' N</text>
<text x="391.6" y="262.2" font-size="7.2" text-anchor="middle" fill="#1e1e1e" font-weight="normal" textLength="28.20" lengthAdjust="spacingAndGlyphs" stroke="#1e1e1e" stroke-width="0.07">41° 48' E</text>
<text x="442.65" y="262.2" font-size="7.2" text-anchor="middle" fill="#1e1e1e" font-weight="normal" textLength="27.80" lengthAdjust="spacingAndGlyphs" stroke="#1e1e1e" stroke-width="0.07">41° 49' E</text>
<text x="493.7" y="262.2" font-size="7.2" text-anchor="middle" fill="#1e1e1e" font-weight="normal" textLength="27.80" lengthAdjust="spacingAndGlyphs" stroke="#1e1e1e" stroke-width="0.07">41° 49' E</text>
<text x="544.75" y="262.2" font-size="7.2" text-anchor="middle" fill="#1e1e1e" font-weight="normal" textLength="28.30" lengthAdjust="spacingAndGlyphs" stroke="#1e1e1e" stroke-width="0.07">41° 50' E</text>
<text x="595.8" y="262.2" font-size="7.2" text-anchor="middle" fill="#1e1e1e" font-weight="normal" textLength="26.20" lengthAdjust="spacingAndGlyphs" stroke="#1e1e1e" stroke-width="0.07">41° 51' E</text>
<text x="646.85" y="262.2" font-size="7.2" text-anchor="middle" fill="#1e1e1e" font-weight="normal" textLength="26.20" lengthAdjust="spacingAndGlyphs" stroke="#1e1e1e" stroke-width="0.07">41° 51' E</text>
<path d="M474.5,237.6 H529.6 M474.5,235.6 V239.8 M502.2,236.2 V239 M529.6,235.6 V239.8" stroke="#888" stroke-width="0.7" fill="none"/>
<text x="474.6" y="232.6" font-size="6.4" text-anchor="middle" fill="#1e1e1e" font-weight="normal" textLength="3.38" lengthAdjust="spacingAndGlyphs" stroke="#1e1e1e" stroke-width="0.07">0</text>
<text x="502.2" y="232.6" font-size="6.4" text-anchor="middle" fill="#1e1e1e" font-weight="normal" textLength="8.45" lengthAdjust="spacingAndGlyphs" stroke="#1e1e1e" stroke-width="0.07">0.5</text>
<text x="528.3" y="232.6" font-size="6.4" text-anchor="start" fill="#1e1e1e" font-weight="normal" textLength="13.17" lengthAdjust="spacingAndGlyphs" stroke="#1e1e1e" stroke-width="0.07">1 km</text>
<circle cx="378" cy="184.8" r="1.75" fill="#f0131b"/>
<circle cx="378" cy="194.9" r="1.75" fill="#0a6cff"/>
<circle cx="378" cy="204.8" r="1.25" fill="#0a0a0a"/>
<rect x="375.6" y="213.05" width="4.8" height="3.5" fill="#1c1cf5"/><rect x="378.1" y="214.3" width="1" height="1" fill="#fff"/>
<rect x="375.6" y="222.4" width="4.8" height="4.8" fill="#1c1cf5"/><path d="M376.95,223.3 V226.3 M379.05,223.3 V226.3" stroke="#fff" stroke-width="0.55"/>
<line x1="372.5" y1="235" x2="384.5" y2="235" stroke="#8fd5f0" stroke-width="0.9"/>
<text x="389.5" y="187.20000000000002" font-size="7" text-anchor="start" fill="#1e1e1e" font-weight="normal" textLength="66.75" lengthAdjust="spacingAndGlyphs" stroke="#1e1e1e" stroke-width="0.07">Index case household</text>
<text x="389.5" y="197.3" font-size="7" text-anchor="start" fill="#1e1e1e" font-weight="normal" textLength="57.50" lengthAdjust="spacingAndGlyphs" stroke="#1e1e1e" stroke-width="0.07">Control household</text>
<text x="389.5" y="207.20000000000002" font-size="7" text-anchor="start" fill="#1e1e1e" font-weight="normal" textLength="77.50" lengthAdjust="spacingAndGlyphs" stroke="#1e1e1e" stroke-width="0.07">Water storage containers</text>
<text x="389.5" y="217.20000000000002" font-size="7" text-anchor="start" fill="#1e1e1e" font-weight="normal" textLength="66.75" lengthAdjust="spacingAndGlyphs" stroke="#1e1e1e" stroke-width="0.07">Water treatment plant</text>
<text x="389.5" y="227.20000000000002" font-size="7" text-anchor="start" fill="#1e1e1e" font-weight="normal" textLength="47.50" lengthAdjust="spacingAndGlyphs" stroke="#1e1e1e" stroke-width="0.07">Health facilities</text>
<text x="389.5" y="237.4" font-size="7" text-anchor="start" fill="#1e1e1e" font-weight="normal" textLength="31.75" lengthAdjust="spacingAndGlyphs" stroke="#1e1e1e" stroke-width="0.07">Butiji River</text>
</svg></body></html>
